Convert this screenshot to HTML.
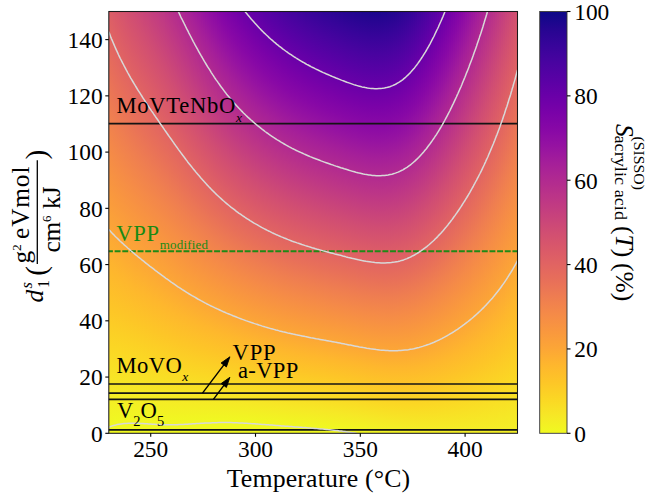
<!DOCTYPE html>
<html><head><meta charset="utf-8">
<style>
html,body{margin:0;padding:0;background:#fff;}
body{width:648px;height:493px;position:relative;overflow:hidden;font-family:"Liberation Serif",serif;}
#heat{position:absolute;left:108.8px;top:11.5px;width:408.7px;height:421.8px;overflow:hidden;}
#heat i{position:absolute;top:0;width:2.6px;height:100%;display:block;}
#cb{position:absolute;left:539.7px;top:11.5px;width:27.3px;height:421.8px;background:linear-gradient(#0d0887 0.0%,#260591 4.0%,#38049a 8.0%,#4903a0 12.0%,#5901a5 16.0%,#6a00a8 20.0%,#7a02a8 24.0%,#8808a6 28.0%,#9613a1 32.0%,#a51f99 36.0%,#b12a90 40.0%,#bc3587 44.0%,#c6417d 48.0%,#d04d73 52.0%,#d9586a 56.0%,#e16462 60.0%,#e87059 64.0%,#ef7e50 68.0%,#f58b47 72.0%,#f9983e 76.0%,#fca636 80.0%,#feb72d 84.0%,#fdc627 88.0%,#fbd724 92.0%,#f6e826 96.0%,#f0f921 100.0%);}
svg{position:absolute;left:0;top:0;}
text{font-family:"Liberation Serif",serif;fill:#000;}
</style></head><body>
<div id="heat">
<i style="left:0px;background:linear-gradient(#dc5d67 0.0%,#e16462 5.4%,#e87059 14.7%,#ef7e50 24.0%,#f58b47 33.3%,#f9983e 42.6%,#fca636 52.0%,#feb72d 61.3%,#fdc627 70.6%,#fbd724 79.9%,#f6e826 89.2%,#f0f921 98.5%,#f0f921 100.0%)"></i>
<i style="left:2px;background:linear-gradient(#db5c68 0.0%,#e16462 6.6%,#e87059 15.8%,#ef7e50 25.0%,#f58b47 34.1%,#f9983e 43.3%,#fca636 52.5%,#feb72d 61.6%,#fdc627 70.8%,#fbd724 80.0%,#f6e826 89.1%,#f0f921 98.3%,#f0f921 100.0%)"></i>
<i style="left:4px;background:linear-gradient(#da5a6a 0.0%,#e16462 7.8%,#e87059 16.8%,#ef7e50 25.8%,#f58b47 34.9%,#f9983e 43.9%,#fca636 52.9%,#feb72d 62.0%,#fdc627 71.0%,#fbd724 80.1%,#f6e826 89.1%,#f0f921 98.1%,#f0f921 100.0%)"></i>
<i style="left:6px;background:linear-gradient(#d9586a 0.0%,#e16462 8.8%,#e87059 17.8%,#ef7e50 26.7%,#f58b47 35.6%,#f9983e 44.5%,#fca636 53.4%,#feb72d 62.3%,#fdc627 71.3%,#fbd724 80.2%,#f6e826 89.1%,#f0f921 98.0%,#f0f921 100.0%)"></i>
<i style="left:8px;background:linear-gradient(#d8576b 0.0%,#d9586a 1.1%,#e16462 9.9%,#e87059 18.7%,#ef7e50 27.5%,#f58b47 36.3%,#f9983e 45.1%,#fca636 53.9%,#feb72d 62.7%,#fdc627 71.5%,#fbd724 80.3%,#f6e826 89.1%,#f0f921 97.9%,#f0f921 100.0%)"></i>
<i style="left:10px;background:linear-gradient(#d6556d 0.0%,#d9586a 2.2%,#e16462 10.9%,#e87059 19.6%,#ef7e50 28.3%,#f58b47 37.0%,#f9983e 45.7%,#fca636 54.3%,#feb72d 63.0%,#fdc627 71.7%,#fbd724 80.4%,#f6e826 89.1%,#f0f921 97.8%,#f0f921 100.0%)"></i>
<i style="left:12px;background:linear-gradient(#d5546e 0.0%,#d9586a 3.2%,#e16462 11.8%,#e87059 20.4%,#ef7e50 29.0%,#f58b47 37.6%,#f9983e 46.2%,#fca636 54.8%,#feb72d 63.4%,#fdc627 72.0%,#fbd724 80.6%,#f6e826 89.2%,#f0f921 97.8%,#f0f921 100.0%)"></i>
<i style="left:14px;background:linear-gradient(#d5536f 0.0%,#d9586a 4.3%,#e16462 12.8%,#e87059 21.3%,#ef7e50 29.7%,#f58b47 38.2%,#f9983e 46.7%,#fca636 55.2%,#feb72d 63.7%,#fdc627 72.2%,#fbd724 80.7%,#f6e826 89.2%,#f0f921 97.7%,#f0f921 100.0%)"></i>
<i style="left:16px;background:linear-gradient(#d35171 0.0%,#d9586a 5.3%,#e16462 13.7%,#e87059 22.1%,#ef7e50 30.5%,#f58b47 38.9%,#f9983e 47.3%,#fca636 55.7%,#feb72d 64.1%,#fdc627 72.5%,#fbd724 80.9%,#f6e826 89.3%,#f0f921 97.7%,#f0f921 100.0%)"></i>
<i style="left:18px;background:linear-gradient(#d24f71 0.0%,#d9586a 6.2%,#e16462 14.5%,#e87059 22.8%,#ef7e50 31.1%,#f58b47 39.5%,#f9983e 47.8%,#fca636 56.1%,#feb72d 64.4%,#fdc627 72.7%,#fbd724 81.0%,#f6e826 89.3%,#f0f921 97.6%,#f0f921 100.0%)"></i>
<i style="left:20px;background:linear-gradient(#d14e72 0.0%,#d9586a 7.1%,#e16462 15.4%,#e87059 23.6%,#ef7e50 31.8%,#f58b47 40.0%,#f9983e 48.3%,#fca636 56.5%,#feb72d 64.7%,#fdc627 72.9%,#fbd724 81.2%,#f6e826 89.4%,#f0f921 97.6%,#f0f921 100.0%)"></i>
<i style="left:22px;background:linear-gradient(#d04d73 0.0%,#d9586a 8.1%,#e16462 16.2%,#e87059 24.3%,#ef7e50 32.5%,#f58b47 40.6%,#f9983e 48.8%,#fca636 56.9%,#feb72d 65.0%,#fdc627 73.2%,#fbd724 81.3%,#f6e826 89.5%,#f0f921 97.6%,#f0f921 100.0%)"></i>
<i style="left:24px;background:linear-gradient(#cf4c74 0.0%,#d04d73 0.9%,#d9586a 8.9%,#e16462 17.0%,#e87059 25.1%,#ef7e50 33.1%,#f58b47 41.2%,#f9983e 49.2%,#fca636 57.3%,#feb72d 65.4%,#fdc627 73.4%,#fbd724 81.5%,#f6e826 89.5%,#f0f921 97.6%,#f0f921 100.0%)"></i>
<i style="left:26px;background:linear-gradient(#cd4a76 0.0%,#d04d73 1.8%,#d9586a 9.8%,#e16462 17.8%,#e87059 25.8%,#ef7e50 33.8%,#f58b47 41.7%,#f9983e 49.7%,#fca636 57.7%,#feb72d 65.7%,#fdc627 73.7%,#fbd724 81.6%,#f6e826 89.6%,#f0f921 97.6%,#f0f921 100.0%)"></i>
<i style="left:28px;background:linear-gradient(#cc4977 0.0%,#d04d73 2.7%,#d9586a 10.6%,#e16462 18.6%,#e87059 26.5%,#ef7e50 34.4%,#f58b47 42.3%,#f9983e 50.2%,#fca636 58.1%,#feb72d 66.0%,#fdc627 73.9%,#fbd724 81.8%,#f6e826 89.7%,#f0f921 97.6%,#f0f921 100.0%)"></i>
<i style="left:30px;background:linear-gradient(#cc4778 0.0%,#d04d73 3.6%,#d9586a 11.5%,#e16462 19.3%,#e87059 27.1%,#ef7e50 35.0%,#f58b47 42.8%,#f9983e 50.6%,#fca636 58.5%,#feb72d 66.3%,#fdc627 74.1%,#fbd724 82.0%,#f6e826 89.8%,#f0f921 97.6%,#f0f921 100.0%)"></i>
<i style="left:32px;background:linear-gradient(#cb4679 0.0%,#d04d73 4.5%,#d9586a 12.3%,#e16462 20.1%,#e87059 27.8%,#ef7e50 35.6%,#f58b47 43.3%,#f9983e 51.1%,#fca636 58.9%,#feb72d 66.6%,#fdc627 74.4%,#fbd724 82.1%,#f6e826 89.9%,#f0f921 97.7%,#f0f921 100.0%)"></i>
<i style="left:34px;background:linear-gradient(#c9447a 0.0%,#d04d73 5.4%,#d9586a 13.1%,#e16462 20.8%,#e87059 28.5%,#ef7e50 36.2%,#f58b47 43.9%,#f9983e 51.6%,#fca636 59.2%,#feb72d 66.9%,#fdc627 74.6%,#fbd724 82.3%,#f6e826 90.0%,#f0f921 97.7%,#f0f921 100.0%)"></i>
<i style="left:36px;background:linear-gradient(#c8437b 0.0%,#d04d73 6.3%,#d9586a 13.9%,#e16462 21.5%,#e87059 29.1%,#ef7e50 36.8%,#f58b47 44.4%,#f9983e 52.0%,#fca636 59.6%,#feb72d 67.2%,#fdc627 74.9%,#fbd724 82.5%,#f6e826 90.1%,#f0f921 97.7%,#f0f921 100.0%)"></i>
<i style="left:38px;background:linear-gradient(#c7427c 0.0%,#d04d73 7.1%,#d9586a 14.7%,#e16462 22.2%,#e87059 29.8%,#ef7e50 37.3%,#f58b47 44.9%,#f9983e 52.4%,#fca636 60.0%,#feb72d 67.5%,#fdc627 75.1%,#fbd724 82.7%,#f6e826 90.2%,#f0f921 97.8%,#f0f921 100.0%)"></i>
<i style="left:40px;background:linear-gradient(#c6417d 0.0%,#c6417d 0.5%,#d04d73 8.0%,#d9586a 15.5%,#e16462 22.9%,#e87059 30.4%,#ef7e50 37.9%,#f58b47 45.4%,#f9983e 52.9%,#fca636 60.4%,#feb72d 67.9%,#fdc627 75.3%,#fbd724 82.8%,#f6e826 90.3%,#f0f921 97.8%,#f0f921 100.0%)"></i>
<i style="left:42px;background:linear-gradient(#c43e7f 0.0%,#c6417d 1.4%,#d04d73 8.8%,#d9586a 16.2%,#e16462 23.6%,#e87059 31.1%,#ef7e50 38.5%,#f58b47 45.9%,#f9983e 53.3%,#fca636 60.7%,#feb72d 68.2%,#fdc627 75.6%,#fbd724 83.0%,#f6e826 90.4%,#f0f921 97.8%,#f0f921 100.0%)"></i>
<i style="left:44px;background:linear-gradient(#c33d80 0.0%,#c6417d 2.3%,#d04d73 9.6%,#d9586a 17.0%,#e16462 24.3%,#e87059 31.7%,#ef7e50 39.0%,#f58b47 46.4%,#f9983e 53.7%,#fca636 61.1%,#feb72d 68.5%,#fdc627 75.8%,#fbd724 83.2%,#f6e826 90.5%,#f0f921 97.9%,#f0f921 100.0%)"></i>
<i style="left:46px;background:linear-gradient(#c23c81 0.0%,#c6417d 3.2%,#d04d73 10.5%,#d9586a 17.8%,#e16462 25.0%,#e87059 32.3%,#ef7e50 39.6%,#f58b47 46.9%,#f9983e 54.2%,#fca636 61.5%,#feb72d 68.7%,#fdc627 76.0%,#fbd724 83.3%,#f6e826 90.6%,#f0f921 97.9%,#f0f921 100.0%)"></i>
<i style="left:48px;background:linear-gradient(#c13b82 0.0%,#c6417d 4.1%,#d04d73 11.3%,#d9586a 18.5%,#e16462 25.7%,#e87059 32.9%,#ef7e50 40.2%,#f58b47 47.4%,#f9983e 54.6%,#fca636 61.8%,#feb72d 69.0%,#fdc627 76.3%,#fbd724 83.5%,#f6e826 90.7%,#f0f921 97.9%,#f0f921 100.0%)"></i>
<i style="left:50px;background:linear-gradient(#bf3984 0.0%,#c6417d 5.0%,#d04d73 12.1%,#d9586a 19.3%,#e16462 26.4%,#e87059 33.6%,#ef7e50 40.7%,#f58b47 47.9%,#f9983e 55.0%,#fca636 62.2%,#feb72d 69.3%,#fdc627 76.5%,#fbd724 83.6%,#f6e826 90.8%,#f0f921 97.9%,#f0f921 100.0%)"></i>
<i style="left:52px;background:linear-gradient(#be3885 0.0%,#c6417d 5.8%,#d04d73 12.9%,#d9586a 20.0%,#e16462 27.1%,#e87059 34.2%,#ef7e50 41.3%,#f58b47 48.4%,#f9983e 55.4%,#fca636 62.5%,#feb72d 69.6%,#fdc627 76.7%,#fbd724 83.8%,#f6e826 90.9%,#f0f921 98.0%,#f0f921 100.0%)"></i>
<i style="left:54px;background:linear-gradient(#bd3786 0.0%,#c6417d 6.7%,#d04d73 13.7%,#d9586a 20.8%,#e16462 27.8%,#e87059 34.8%,#ef7e50 41.8%,#f58b47 48.8%,#f9983e 55.9%,#fca636 62.9%,#feb72d 69.9%,#fdc627 76.9%,#fbd724 83.9%,#f6e826 91.0%,#f0f921 98.0%,#f0f921 100.0%)"></i>
<i style="left:56px;background:linear-gradient(#bb3488 0.0%,#bc3587 0.7%,#c6417d 7.6%,#d04d73 14.6%,#d9586a 21.5%,#e16462 28.5%,#e87059 35.4%,#ef7e50 42.4%,#f58b47 49.3%,#f9983e 56.3%,#fca636 63.2%,#feb72d 70.2%,#fdc627 77.1%,#fbd724 84.1%,#f6e826 91.0%,#f0f921 98.0%,#f0f921 100.0%)"></i>
<i style="left:58px;background:linear-gradient(#ba3388 0.0%,#bc3587 1.6%,#c6417d 8.5%,#d04d73 15.4%,#d9586a 22.3%,#e16462 29.1%,#e87059 36.0%,#ef7e50 42.9%,#f58b47 49.8%,#f9983e 56.7%,#fca636 63.6%,#feb72d 70.5%,#fdc627 77.3%,#fbd724 84.2%,#f6e826 91.1%,#f0f921 98.0%,#f0f921 100.0%)"></i>
<i style="left:60px;background:linear-gradient(#b7318a 0.0%,#bc3587 2.6%,#c6417d 9.4%,#d04d73 16.2%,#d9586a 23.0%,#e16462 29.8%,#e87059 36.6%,#ef7e50 43.5%,#f58b47 50.3%,#f9983e 57.1%,#fca636 63.9%,#feb72d 70.7%,#fdc627 77.5%,#fbd724 84.4%,#f6e826 91.2%,#f0f921 98.0%,#f0f921 100.0%)"></i>
<i style="left:62px;background:linear-gradient(#b6308b 0.0%,#bc3587 3.5%,#c6417d 10.3%,#d04d73 17.0%,#d9586a 23.8%,#e16462 30.5%,#e87059 37.2%,#ef7e50 44.0%,#f58b47 50.7%,#f9983e 57.5%,#fca636 64.2%,#feb72d 71.0%,#fdc627 77.7%,#fbd724 84.5%,#f6e826 91.2%,#f0f921 98.0%,#f0f921 100.0%)"></i>
<i style="left:64px;background:linear-gradient(#b42e8d 0.0%,#bc3587 4.5%,#c6417d 11.1%,#d04d73 17.8%,#d9586a 24.5%,#e16462 31.2%,#e87059 37.9%,#ef7e50 44.5%,#f58b47 51.2%,#f9983e 57.9%,#fca636 64.6%,#feb72d 71.3%,#fdc627 77.9%,#fbd724 84.6%,#f6e826 91.3%,#f0f921 98.0%,#f0f921 100.0%)"></i>
<i style="left:66px;background:linear-gradient(#b32c8e 0.0%,#bc3587 5.4%,#c6417d 12.0%,#d04d73 18.6%,#d9586a 25.2%,#e16462 31.8%,#e87059 38.4%,#ef7e50 45.1%,#f58b47 51.7%,#f9983e 58.3%,#fca636 64.9%,#feb72d 71.5%,#fdc627 78.1%,#fbd724 84.7%,#f6e826 91.3%,#f0f921 98.0%,#f0f921 100.0%)"></i>
<i style="left:68px;background:linear-gradient(#b12a90 0.0%,#bc3587 6.3%,#c6417d 12.9%,#d04d73 19.4%,#d9586a 26.0%,#e16462 32.5%,#e87059 39.0%,#ef7e50 45.6%,#f58b47 52.1%,#f9983e 58.7%,#fca636 65.2%,#feb72d 71.8%,#fdc627 78.3%,#fbd724 84.9%,#f6e826 91.4%,#f0f921 97.9%,#f0f921 100.0%)"></i>
<i style="left:70px;background:linear-gradient(#b02991 0.0%,#b12a90 0.8%,#bc3587 7.2%,#c6417d 13.7%,#d04d73 20.2%,#d9586a 26.7%,#e16462 33.1%,#e87059 39.6%,#ef7e50 46.1%,#f58b47 52.6%,#f9983e 59.1%,#fca636 65.5%,#feb72d 72.0%,#fdc627 78.5%,#fbd724 85.0%,#f6e826 91.4%,#f0f921 97.9%,#f0f921 100.0%)"></i>
<i style="left:72px;background:linear-gradient(#ad2793 0.0%,#b12a90 1.7%,#bc3587 8.1%,#c6417d 14.6%,#d04d73 21.0%,#d9586a 27.4%,#e16462 33.8%,#e87059 40.2%,#ef7e50 46.6%,#f58b47 53.0%,#f9983e 59.4%,#fca636 65.8%,#feb72d 72.3%,#fdc627 78.7%,#fbd724 85.1%,#f6e826 91.5%,#f0f921 97.9%,#f0f921 100.0%)"></i>
<i style="left:74px;background:linear-gradient(#ac2694 0.0%,#b12a90 2.7%,#bc3587 9.0%,#c6417d 15.4%,#d04d73 21.7%,#d9586a 28.1%,#e16462 34.4%,#e87059 40.8%,#ef7e50 47.1%,#f58b47 53.5%,#f9983e 59.8%,#fca636 66.2%,#feb72d 72.5%,#fdc627 78.8%,#fbd724 85.2%,#f6e826 91.5%,#f0f921 97.9%,#f0f921 100.0%)"></i>
<i style="left:76px;background:linear-gradient(#aa2395 0.0%,#b12a90 3.7%,#bc3587 9.9%,#c6417d 16.2%,#d04d73 22.5%,#d9586a 28.8%,#e16462 35.1%,#e87059 41.3%,#ef7e50 47.6%,#f58b47 53.9%,#f9983e 60.2%,#fca636 66.5%,#feb72d 72.7%,#fdc627 79.0%,#fbd724 85.3%,#f6e826 91.6%,#f0f921 97.9%,#f0f921 100.0%)"></i>
<i style="left:78px;background:linear-gradient(#a72197 0.0%,#b12a90 4.6%,#bc3587 10.8%,#c6417d 17.0%,#d04d73 23.2%,#d9586a 29.5%,#e16462 35.7%,#e87059 41.9%,#ef7e50 48.1%,#f58b47 54.3%,#f9983e 60.5%,#fca636 66.8%,#feb72d 73.0%,#fdc627 79.2%,#fbd724 85.4%,#f6e826 91.6%,#f0f921 97.8%,#f0f921 100.0%)"></i>
<i style="left:80px;background:linear-gradient(#a62098 0.0%,#b12a90 5.5%,#bc3587 11.7%,#c6417d 17.8%,#d04d73 24.0%,#d9586a 30.1%,#e16462 36.3%,#e87059 42.4%,#ef7e50 48.6%,#f58b47 54.7%,#f9983e 60.9%,#fca636 67.0%,#feb72d 73.2%,#fdc627 79.3%,#fbd724 85.5%,#f6e826 91.6%,#f0f921 97.8%,#f0f921 100.0%)"></i>
<i style="left:82px;background:linear-gradient(#a31e9a 0.0%,#a51f99 0.3%,#b12a90 6.4%,#bc3587 12.5%,#c6417d 18.6%,#d04d73 24.7%,#d9586a 30.8%,#e16462 36.9%,#e87059 43.0%,#ef7e50 49.1%,#f58b47 55.1%,#f9983e 61.2%,#fca636 67.3%,#feb72d 73.4%,#fdc627 79.5%,#fbd724 85.6%,#f6e826 91.7%,#f0f921 97.8%,#f0f921 100.0%)"></i>
<i style="left:84px;background:linear-gradient(#a11b9b 0.0%,#a51f99 1.3%,#b12a90 7.3%,#bc3587 13.4%,#c6417d 19.4%,#d04d73 25.4%,#d9586a 31.4%,#e16462 37.5%,#e87059 43.5%,#ef7e50 49.5%,#f58b47 55.6%,#f9983e 61.6%,#fca636 67.6%,#feb72d 73.6%,#fdc627 79.7%,#fbd724 85.7%,#f6e826 91.7%,#f0f921 97.7%,#f0f921 100.0%)"></i>
<i style="left:86px;background:linear-gradient(#a01a9c 0.0%,#a51f99 2.2%,#b12a90 8.2%,#bc3587 14.2%,#c6417d 20.1%,#d04d73 26.1%,#d9586a 32.1%,#e16462 38.0%,#e87059 44.0%,#ef7e50 50.0%,#f58b47 55.9%,#f9983e 61.9%,#fca636 67.9%,#feb72d 73.8%,#fdc627 79.8%,#fbd724 85.8%,#f6e826 91.7%,#f0f921 97.7%,#f0f921 100.0%)"></i>
<i style="left:88px;background:linear-gradient(#9d189d 0.0%,#a51f99 3.2%,#b12a90 9.1%,#bc3587 15.0%,#c6417d 20.9%,#d04d73 26.8%,#d9586a 32.7%,#e16462 38.6%,#e87059 44.5%,#ef7e50 50.4%,#f58b47 56.3%,#f9983e 62.2%,#fca636 68.1%,#feb72d 74.1%,#fdc627 80.0%,#fbd724 85.9%,#f6e826 91.8%,#f0f921 97.7%,#f0f921 100.0%)"></i>
<i style="left:90px;background:linear-gradient(#9c179e 0.0%,#a51f99 4.1%,#b12a90 9.9%,#bc3587 15.8%,#c6417d 21.6%,#d04d73 27.5%,#d9586a 33.3%,#e16462 39.2%,#e87059 45.0%,#ef7e50 50.9%,#f58b47 56.7%,#f9983e 62.6%,#fca636 68.4%,#feb72d 74.3%,#fdc627 80.1%,#fbd724 86.0%,#f6e826 91.8%,#f0f921 97.7%,#f0f921 100.0%)"></i>
<i style="left:92px;background:linear-gradient(#99159f 0.0%,#a51f99 5.0%,#b12a90 10.8%,#bc3587 16.5%,#c6417d 22.3%,#d04d73 28.1%,#d9586a 33.9%,#e16462 39.7%,#e87059 45.5%,#ef7e50 51.3%,#f58b47 57.1%,#f9983e 62.9%,#fca636 68.7%,#feb72d 74.5%,#fdc627 80.3%,#fbd724 86.0%,#f6e826 91.8%,#f0f921 97.6%,#f0f921 100.0%)"></i>
<i style="left:94px;background:linear-gradient(#9613a1 0.0%,#9613a1 0.1%,#a51f99 5.8%,#b12a90 11.6%,#bc3587 17.3%,#c6417d 23.0%,#d04d73 28.8%,#d9586a 34.5%,#e16462 40.2%,#e87059 46.0%,#ef7e50 51.7%,#f58b47 57.5%,#f9983e 63.2%,#fca636 68.9%,#feb72d 74.7%,#fdc627 80.4%,#fbd724 86.1%,#f6e826 91.9%,#f0f921 97.6%,#f0f921 100.0%)"></i>
<i style="left:96px;background:linear-gradient(#9511a1 0.0%,#9613a1 1.0%,#a51f99 6.7%,#b12a90 12.4%,#bc3587 18.0%,#c6417d 23.7%,#d04d73 29.4%,#d9586a 35.1%,#e16462 40.8%,#e87059 46.4%,#ef7e50 52.1%,#f58b47 57.8%,#f9983e 63.5%,#fca636 69.2%,#feb72d 74.9%,#fdc627 80.5%,#fbd724 86.2%,#f6e826 91.9%,#f0f921 97.6%,#f0f921 100.0%)"></i>
<i style="left:98px;background:linear-gradient(#920fa3 0.0%,#9613a1 1.9%,#a51f99 7.5%,#b12a90 13.1%,#bc3587 18.8%,#c6417d 24.4%,#d04d73 30.0%,#d9586a 35.7%,#e16462 41.3%,#e87059 46.9%,#ef7e50 52.5%,#f58b47 58.2%,#f9983e 63.8%,#fca636 69.4%,#feb72d 75.0%,#fdc627 80.7%,#fbd724 86.3%,#f6e826 91.9%,#f0f921 97.6%,#f0f921 100.0%)"></i>
<i style="left:100px;background:linear-gradient(#8f0da4 0.0%,#9613a1 2.7%,#a51f99 8.3%,#b12a90 13.9%,#bc3587 19.5%,#c6417d 25.1%,#d04d73 30.6%,#d9586a 36.2%,#e16462 41.8%,#e87059 47.4%,#ef7e50 52.9%,#f58b47 58.5%,#f9983e 64.1%,#fca636 69.7%,#feb72d 75.2%,#fdc627 80.8%,#fbd724 86.4%,#f6e826 92.0%,#f0f921 97.5%,#f0f921 100.0%)"></i>
<i style="left:102px;background:linear-gradient(#8e0ca4 0.0%,#9613a1 3.6%,#a51f99 9.1%,#b12a90 14.6%,#bc3587 20.2%,#c6417d 25.7%,#d04d73 31.2%,#d9586a 36.7%,#e16462 42.3%,#e87059 47.8%,#ef7e50 53.3%,#f58b47 58.8%,#f9983e 64.4%,#fca636 69.9%,#feb72d 75.4%,#fdc627 80.9%,#fbd724 86.5%,#f6e826 92.0%,#f0f921 97.5%,#f0f921 100.0%)"></i>
<i style="left:104px;background:linear-gradient(#8b0aa5 0.0%,#9613a1 4.4%,#a51f99 9.9%,#b12a90 15.4%,#bc3587 20.8%,#c6417d 26.3%,#d04d73 31.8%,#d9586a 37.3%,#e16462 42.7%,#e87059 48.2%,#ef7e50 53.7%,#f58b47 59.2%,#f9983e 64.6%,#fca636 70.1%,#feb72d 75.6%,#fdc627 81.1%,#fbd724 86.5%,#f6e826 92.0%,#f0f921 97.5%,#f0f921 100.0%)"></i>
<i style="left:106px;background:linear-gradient(#8a09a5 0.0%,#9613a1 5.2%,#a51f99 10.6%,#b12a90 16.1%,#bc3587 21.5%,#c6417d 26.9%,#d04d73 32.4%,#d9586a 37.8%,#e16462 43.2%,#e87059 48.6%,#ef7e50 54.1%,#f58b47 59.5%,#f9983e 64.9%,#fca636 70.3%,#feb72d 75.8%,#fdc627 81.2%,#fbd724 86.6%,#f6e826 92.1%,#f0f921 97.5%,#f0f921 100.0%)"></i>
<i style="left:108px;background:linear-gradient(#8707a6 0.0%,#8808a6 0.6%,#9613a1 6.0%,#a51f99 11.4%,#b12a90 16.8%,#bc3587 22.1%,#c6417d 27.5%,#d04d73 32.9%,#d9586a 38.3%,#e16462 43.7%,#e87059 49.0%,#ef7e50 54.4%,#f58b47 59.8%,#f9983e 65.2%,#fca636 70.6%,#feb72d 75.9%,#fdc627 81.3%,#fbd724 86.7%,#f6e826 92.1%,#f0f921 97.5%,#f0f921 100.0%)"></i>
<i style="left:110px;background:linear-gradient(#8405a7 0.0%,#8808a6 1.4%,#9613a1 6.8%,#a51f99 12.1%,#b12a90 17.4%,#bc3587 22.8%,#c6417d 28.1%,#d04d73 33.4%,#d9586a 38.8%,#e16462 44.1%,#e87059 49.4%,#ef7e50 54.8%,#f58b47 60.1%,#f9983e 65.4%,#fca636 70.8%,#feb72d 76.1%,#fdc627 81.5%,#fbd724 86.8%,#f6e826 92.1%,#f0f921 97.5%,#f0f921 100.0%)"></i>
<i style="left:112px;background:linear-gradient(#8305a7 0.0%,#8808a6 2.2%,#9613a1 7.5%,#a51f99 12.8%,#b12a90 18.1%,#bc3587 23.4%,#c6417d 28.7%,#d04d73 34.0%,#d9586a 39.2%,#e16462 44.5%,#e87059 49.8%,#ef7e50 55.1%,#f58b47 60.4%,#f9983e 65.7%,#fca636 71.0%,#feb72d 76.3%,#fdc627 81.6%,#fbd724 86.9%,#f6e826 92.2%,#f0f921 97.5%,#f0f921 100.0%)"></i>
<i style="left:114px;background:linear-gradient(#8004a8 0.0%,#8808a6 3.0%,#9613a1 8.2%,#a51f99 13.5%,#b12a90 18.7%,#bc3587 24.0%,#c6417d 29.2%,#d04d73 34.5%,#d9586a 39.7%,#e16462 45.0%,#e87059 50.2%,#ef7e50 55.5%,#f58b47 60.7%,#f9983e 66.0%,#fca636 71.2%,#feb72d 76.5%,#fdc627 81.7%,#fbd724 87.0%,#f6e826 92.2%,#f0f921 97.5%,#f0f921 100.0%)"></i>
<i style="left:116px;background:linear-gradient(#7e03a8 0.0%,#8808a6 3.7%,#9613a1 8.9%,#a51f99 14.1%,#b12a90 19.3%,#bc3587 24.5%,#c6417d 29.7%,#d04d73 34.9%,#d9586a 40.2%,#e16462 45.4%,#e87059 50.6%,#ef7e50 55.8%,#f58b47 61.0%,#f9983e 66.2%,#fca636 71.4%,#feb72d 76.6%,#fdc627 81.8%,#fbd724 87.0%,#f6e826 92.2%,#f0f921 97.5%,#f0f921 100.0%)"></i>
<i style="left:118px;background:linear-gradient(#7b02a8 0.0%,#8808a6 4.4%,#9613a1 9.6%,#a51f99 14.7%,#b12a90 19.9%,#bc3587 25.1%,#c6417d 30.3%,#d04d73 35.4%,#d9586a 40.6%,#e16462 45.8%,#e87059 50.9%,#ef7e50 56.1%,#f58b47 61.3%,#f9983e 66.4%,#fca636 71.6%,#feb72d 76.8%,#fdc627 82.0%,#fbd724 87.1%,#f6e826 92.3%,#f0f921 97.5%,#f0f921 100.0%)"></i>
<i style="left:120px;background:linear-gradient(#7a02a8 0.0%,#8808a6 5.1%,#9613a1 10.2%,#a51f99 15.4%,#b12a90 20.5%,#bc3587 25.6%,#c6417d 30.8%,#d04d73 35.9%,#d9586a 41.0%,#e16462 46.2%,#e87059 51.3%,#ef7e50 56.4%,#f58b47 61.5%,#f9983e 66.7%,#fca636 71.8%,#feb72d 76.9%,#fdc627 82.1%,#fbd724 87.2%,#f6e826 92.3%,#f0f921 97.5%,#f0f921 100.0%)"></i>
<i style="left:122px;background:linear-gradient(#7801a8 0.0%,#7a02a8 0.7%,#8808a6 5.8%,#9613a1 10.9%,#a51f99 16.0%,#b12a90 21.1%,#bc3587 26.2%,#c6417d 31.2%,#d04d73 36.3%,#d9586a 41.4%,#e16462 46.5%,#e87059 51.6%,#ef7e50 56.7%,#f58b47 61.8%,#f9983e 66.9%,#fca636 72.0%,#feb72d 77.1%,#fdc627 82.2%,#fbd724 87.3%,#f6e826 92.4%,#f0f921 97.5%,#f0f921 100.0%)"></i>
<i style="left:124px;background:linear-gradient(#7501a8 0.0%,#7a02a8 1.4%,#8808a6 6.4%,#9613a1 11.5%,#a51f99 16.5%,#b12a90 21.6%,#bc3587 26.7%,#c6417d 31.7%,#d04d73 36.8%,#d9586a 41.8%,#e16462 46.9%,#e87059 52.0%,#ef7e50 57.0%,#f58b47 62.1%,#f9983e 67.1%,#fca636 72.2%,#feb72d 77.3%,#fdc627 82.3%,#fbd724 87.4%,#f6e826 92.4%,#f0f921 97.5%,#f0f921 100.0%)"></i>
<i style="left:126px;background:linear-gradient(#7401a8 0.0%,#7a02a8 2.0%,#8808a6 7.1%,#9613a1 12.1%,#a51f99 17.1%,#b12a90 22.1%,#bc3587 27.2%,#c6417d 32.2%,#d04d73 37.2%,#d9586a 42.2%,#e16462 47.3%,#e87059 52.3%,#ef7e50 57.3%,#f58b47 62.3%,#f9983e 67.4%,#fca636 72.4%,#feb72d 77.4%,#fdc627 82.4%,#fbd724 87.5%,#f6e826 92.5%,#f0f921 97.5%,#f0f921 100.0%)"></i>
<i style="left:128px;background:linear-gradient(#7100a8 0.0%,#7a02a8 2.7%,#8808a6 7.7%,#9613a1 12.7%,#a51f99 17.7%,#b12a90 22.6%,#bc3587 27.6%,#c6417d 32.6%,#d04d73 37.6%,#d9586a 42.6%,#e16462 47.6%,#e87059 52.6%,#ef7e50 57.6%,#f58b47 62.6%,#f9983e 67.6%,#fca636 72.6%,#feb72d 77.6%,#fdc627 82.5%,#fbd724 87.5%,#f6e826 92.5%,#f0f921 97.5%,#f0f921 100.0%)"></i>
<i style="left:130px;background:linear-gradient(#6f00a8 0.0%,#7a02a8 3.3%,#8808a6 8.3%,#9613a1 13.2%,#a51f99 18.2%,#b12a90 23.1%,#bc3587 28.1%,#c6417d 33.1%,#d04d73 38.0%,#d9586a 43.0%,#e16462 47.9%,#e87059 52.9%,#ef7e50 57.9%,#f58b47 62.8%,#f9983e 67.8%,#fca636 72.7%,#feb72d 77.7%,#fdc627 82.7%,#fbd724 87.6%,#f6e826 92.6%,#f0f921 97.5%,#f0f921 100.0%)"></i>
<i style="left:132px;background:linear-gradient(#6e00a8 0.0%,#7a02a8 3.9%,#8808a6 8.9%,#9613a1 13.8%,#a51f99 18.7%,#b12a90 23.6%,#bc3587 28.6%,#c6417d 33.5%,#d04d73 38.4%,#d9586a 43.4%,#e16462 48.3%,#e87059 53.2%,#ef7e50 58.1%,#f58b47 63.1%,#f9983e 68.0%,#fca636 72.9%,#feb72d 77.9%,#fdc627 82.8%,#fbd724 87.7%,#f6e826 92.6%,#f0f921 97.6%,#f0f921 100.0%)"></i>
<i style="left:134px;background:linear-gradient(#6a00a8 0.0%,#7a02a8 4.5%,#8808a6 9.4%,#9613a1 14.3%,#a51f99 19.2%,#b12a90 24.1%,#bc3587 29.0%,#c6417d 33.9%,#d04d73 38.8%,#d9586a 43.7%,#e16462 48.6%,#e87059 53.5%,#ef7e50 58.4%,#f58b47 63.3%,#f9983e 68.2%,#fca636 73.1%,#feb72d 78.0%,#fdc627 82.9%,#fbd724 87.8%,#f6e826 92.7%,#f0f921 97.6%,#f0f921 100.0%)"></i>
<i style="left:136px;background:linear-gradient(#6900a8 0.0%,#6a00a8 0.2%,#7a02a8 5.1%,#8808a6 10.0%,#9613a1 14.8%,#a51f99 19.7%,#b12a90 24.6%,#bc3587 29.4%,#c6417d 34.3%,#d04d73 39.2%,#d9586a 44.1%,#e16462 48.9%,#e87059 53.8%,#ef7e50 58.7%,#f58b47 63.5%,#f9983e 68.4%,#fca636 73.3%,#feb72d 78.1%,#fdc627 83.0%,#fbd724 87.9%,#f6e826 92.7%,#f0f921 97.6%,#f0f921 100.0%)"></i>
<i style="left:138px;background:linear-gradient(#6700a8 0.0%,#6a00a8 0.8%,#7a02a8 5.7%,#8808a6 10.5%,#9613a1 15.3%,#a51f99 20.2%,#b12a90 25.0%,#bc3587 29.9%,#c6417d 34.7%,#d04d73 39.5%,#d9586a 44.4%,#e16462 49.2%,#e87059 54.1%,#ef7e50 58.9%,#f58b47 63.8%,#f9983e 68.6%,#fca636 73.4%,#feb72d 78.3%,#fdc627 83.1%,#fbd724 88.0%,#f6e826 92.8%,#f0f921 97.6%,#f0f921 100.0%)"></i>
<i style="left:140px;background:linear-gradient(#6600a7 0.0%,#6a00a8 1.4%,#7a02a8 6.2%,#8808a6 11.0%,#9613a1 15.8%,#a51f99 20.6%,#b12a90 25.5%,#bc3587 30.3%,#c6417d 35.1%,#d04d73 39.9%,#d9586a 44.7%,#e16462 49.5%,#e87059 54.3%,#ef7e50 59.2%,#f58b47 64.0%,#f9983e 68.8%,#fca636 73.6%,#feb72d 78.4%,#fdc627 83.2%,#fbd724 88.0%,#f6e826 92.9%,#f0f921 97.7%,#f0f921 100.0%)"></i>
<i style="left:142px;background:linear-gradient(#6400a7 0.0%,#6a00a8 1.9%,#7a02a8 6.7%,#8808a6 11.5%,#9613a1 16.3%,#a51f99 21.1%,#b12a90 25.9%,#bc3587 30.7%,#c6417d 35.5%,#d04d73 40.3%,#d9586a 45.0%,#e16462 49.8%,#e87059 54.6%,#ef7e50 59.4%,#f58b47 64.2%,#f9983e 69.0%,#fca636 73.8%,#feb72d 78.6%,#fdc627 83.3%,#fbd724 88.1%,#f6e826 92.9%,#f0f921 97.7%,#f0f921 100.0%)"></i>
<i style="left:144px;background:linear-gradient(#6100a7 0.0%,#6a00a8 2.5%,#7a02a8 7.3%,#8808a6 12.0%,#9613a1 16.8%,#a51f99 21.5%,#b12a90 26.3%,#bc3587 31.1%,#c6417d 35.8%,#d04d73 40.6%,#d9586a 45.4%,#e16462 50.1%,#e87059 54.9%,#ef7e50 59.6%,#f58b47 64.4%,#f9983e 69.2%,#fca636 73.9%,#feb72d 78.7%,#fdc627 83.5%,#fbd724 88.2%,#f6e826 93.0%,#f0f921 97.7%,#f0f921 100.0%)"></i>
<i style="left:146px;background:linear-gradient(#6001a6 0.0%,#6a00a8 3.0%,#7a02a8 7.8%,#8808a6 12.5%,#9613a1 17.2%,#a51f99 22.0%,#b12a90 26.7%,#bc3587 31.4%,#c6417d 36.2%,#d04d73 40.9%,#d9586a 45.7%,#e16462 50.4%,#e87059 55.1%,#ef7e50 59.9%,#f58b47 64.6%,#f9983e 69.3%,#fca636 74.1%,#feb72d 78.8%,#fdc627 83.6%,#fbd724 88.3%,#f6e826 93.0%,#f0f921 97.8%,#f0f921 100.0%)"></i>
<i style="left:148px;background:linear-gradient(#5e01a6 0.0%,#6a00a8 3.5%,#7a02a8 8.2%,#8808a6 13.0%,#9613a1 17.7%,#a51f99 22.4%,#b12a90 27.1%,#bc3587 31.8%,#c6417d 36.5%,#d04d73 41.2%,#d9586a 46.0%,#e16462 50.7%,#e87059 55.4%,#ef7e50 60.1%,#f58b47 64.8%,#f9983e 69.5%,#fca636 74.2%,#feb72d 79.0%,#fdc627 83.7%,#fbd724 88.4%,#f6e826 93.1%,#f0f921 97.8%,#f0f921 100.0%)"></i>
<i style="left:150px;background:linear-gradient(#5c01a6 0.0%,#6a00a8 4.0%,#7a02a8 8.7%,#8808a6 13.4%,#9613a1 18.1%,#a51f99 22.8%,#b12a90 27.5%,#bc3587 32.2%,#c6417d 36.9%,#d04d73 41.6%,#d9586a 46.2%,#e16462 50.9%,#e87059 55.6%,#ef7e50 60.3%,#f58b47 65.0%,#f9983e 69.7%,#fca636 74.4%,#feb72d 79.1%,#fdc627 83.8%,#fbd724 88.5%,#f6e826 93.2%,#f0f921 97.8%,#f0f921 100.0%)"></i>
<i style="left:152px;background:linear-gradient(#5b01a5 0.0%,#6a00a8 4.5%,#7a02a8 9.2%,#8808a6 13.8%,#9613a1 18.5%,#a51f99 23.2%,#b12a90 27.9%,#bc3587 32.5%,#c6417d 37.2%,#d04d73 41.9%,#d9586a 46.5%,#e16462 51.2%,#e87059 55.9%,#ef7e50 60.5%,#f58b47 65.2%,#f9983e 69.9%,#fca636 74.5%,#feb72d 79.2%,#fdc627 83.9%,#fbd724 88.5%,#f6e826 93.2%,#f0f921 97.9%,#f0f921 100.0%)"></i>
<i style="left:154px;background:linear-gradient(#5901a5 0.0%,#5901a5 0.3%,#6a00a8 5.0%,#7a02a8 9.6%,#8808a6 14.3%,#9613a1 18.9%,#a51f99 23.6%,#b12a90 28.2%,#bc3587 32.9%,#c6417d 37.5%,#d04d73 42.2%,#d9586a 46.8%,#e16462 51.4%,#e87059 56.1%,#ef7e50 60.7%,#f58b47 65.4%,#f9983e 70.0%,#fca636 74.7%,#feb72d 79.3%,#fdc627 84.0%,#fbd724 88.6%,#f6e826 93.3%,#f0f921 97.9%,#f0f921 100.0%)"></i>
<i style="left:156px;background:linear-gradient(#5801a4 0.0%,#5901a5 0.8%,#6a00a8 5.4%,#7a02a8 10.1%,#8808a6 14.7%,#9613a1 19.3%,#a51f99 23.9%,#b12a90 28.6%,#bc3587 33.2%,#c6417d 37.8%,#d04d73 42.4%,#d9586a 47.1%,#e16462 51.7%,#e87059 56.3%,#ef7e50 60.9%,#f58b47 65.6%,#f9983e 70.2%,#fca636 74.8%,#feb72d 79.4%,#fdc627 84.1%,#fbd724 88.7%,#f6e826 93.3%,#f0f921 98.0%,#f0f921 100.0%)"></i>
<i style="left:158px;background:linear-gradient(#5601a4 0.0%,#5901a5 1.3%,#6a00a8 5.9%,#7a02a8 10.5%,#8808a6 15.1%,#9613a1 19.7%,#a51f99 24.3%,#b12a90 28.9%,#bc3587 33.5%,#c6417d 38.1%,#d04d73 42.7%,#d9586a 47.3%,#e16462 51.9%,#e87059 56.5%,#ef7e50 61.1%,#f58b47 65.8%,#f9983e 70.4%,#fca636 75.0%,#feb72d 79.6%,#fdc627 84.2%,#fbd724 88.8%,#f6e826 93.4%,#f0f921 98.0%,#f0f921 100.0%)"></i>
<i style="left:160px;background:linear-gradient(#5502a4 0.0%,#5901a5 1.7%,#6a00a8 6.3%,#7a02a8 10.9%,#8808a6 15.5%,#9613a1 20.1%,#a51f99 24.7%,#b12a90 29.2%,#bc3587 33.8%,#c6417d 38.4%,#d04d73 43.0%,#d9586a 47.6%,#e16462 52.2%,#e87059 56.8%,#ef7e50 61.3%,#f58b47 65.9%,#f9983e 70.5%,#fca636 75.1%,#feb72d 79.7%,#fdc627 84.3%,#fbd724 88.9%,#f6e826 93.4%,#f0f921 98.0%,#f0f921 100.0%)"></i>
<i style="left:162px;background:linear-gradient(#5302a3 0.0%,#5901a5 2.2%,#6a00a8 6.7%,#7a02a8 11.3%,#8808a6 15.9%,#9613a1 20.4%,#a51f99 25.0%,#b12a90 29.6%,#bc3587 34.1%,#c6417d 38.7%,#d04d73 43.3%,#d9586a 47.8%,#e16462 52.4%,#e87059 57.0%,#ef7e50 61.5%,#f58b47 66.1%,#f9983e 70.7%,#fca636 75.2%,#feb72d 79.8%,#fdc627 84.4%,#fbd724 88.9%,#f6e826 93.5%,#f0f921 98.1%,#f0f921 100.0%)"></i>
<i style="left:164px;background:linear-gradient(#5102a3 0.0%,#5901a5 2.6%,#6a00a8 7.2%,#7a02a8 11.7%,#8808a6 16.3%,#9613a1 20.8%,#a51f99 25.3%,#b12a90 29.9%,#bc3587 34.4%,#c6417d 39.0%,#d04d73 43.5%,#d9586a 48.1%,#e16462 52.6%,#e87059 57.2%,#ef7e50 61.7%,#f58b47 66.3%,#f9983e 70.8%,#fca636 75.4%,#feb72d 79.9%,#fdc627 84.5%,#fbd724 89.0%,#f6e826 93.6%,#f0f921 98.1%,#f0f921 100.0%)"></i>
<i style="left:166px;background:linear-gradient(#5002a2 0.0%,#5901a5 3.0%,#6a00a8 7.6%,#7a02a8 12.1%,#8808a6 16.6%,#9613a1 21.1%,#a51f99 25.7%,#b12a90 30.2%,#bc3587 34.7%,#c6417d 39.3%,#d04d73 43.8%,#d9586a 48.3%,#e16462 52.8%,#e87059 57.4%,#ef7e50 61.9%,#f58b47 66.4%,#f9983e 71.0%,#fca636 75.5%,#feb72d 80.0%,#fdc627 84.6%,#fbd724 89.1%,#f6e826 93.6%,#f0f921 98.1%,#f0f921 100.0%)"></i>
<i style="left:168px;background:linear-gradient(#4e02a2 0.0%,#5901a5 3.4%,#6a00a8 7.9%,#7a02a8 12.5%,#8808a6 17.0%,#9613a1 21.5%,#a51f99 26.0%,#b12a90 30.5%,#bc3587 35.0%,#c6417d 39.5%,#d04d73 44.0%,#d9586a 48.5%,#e16462 53.1%,#e87059 57.6%,#ef7e50 62.1%,#f58b47 66.6%,#f9983e 71.1%,#fca636 75.6%,#feb72d 80.1%,#fdc627 84.6%,#fbd724 89.2%,#f6e826 93.7%,#f0f921 98.2%,#f0f921 100.0%)"></i>
<i style="left:170px;background:linear-gradient(#4c02a1 0.0%,#5901a5 3.8%,#6a00a8 8.3%,#7a02a8 12.8%,#8808a6 17.3%,#9613a1 21.8%,#a51f99 26.3%,#b12a90 30.8%,#bc3587 35.3%,#c6417d 39.8%,#d04d73 44.3%,#d9586a 48.8%,#e16462 53.3%,#e87059 57.8%,#ef7e50 62.3%,#f58b47 66.8%,#f9983e 71.2%,#fca636 75.7%,#feb72d 80.2%,#fdc627 84.7%,#fbd724 89.2%,#f6e826 93.7%,#f0f921 98.2%,#f0f921 100.0%)"></i>
<i style="left:172px;background:linear-gradient(#4b03a1 0.0%,#5901a5 4.2%,#6a00a8 8.7%,#7a02a8 13.2%,#8808a6 17.6%,#9613a1 22.1%,#a51f99 26.6%,#b12a90 31.1%,#bc3587 35.6%,#c6417d 40.0%,#d04d73 44.5%,#d9586a 49.0%,#e16462 53.5%,#e87059 57.9%,#ef7e50 62.4%,#f58b47 66.9%,#f9983e 71.4%,#fca636 75.9%,#feb72d 80.3%,#fdc627 84.8%,#fbd724 89.3%,#f6e826 93.8%,#f0f921 98.2%,#f0f921 100.0%)"></i>
<i style="left:174px;background:linear-gradient(#4903a0 0.0%,#4903a0 0.1%,#5901a5 4.6%,#6a00a8 9.0%,#7a02a8 13.5%,#8808a6 18.0%,#9613a1 22.4%,#a51f99 26.9%,#b12a90 31.4%,#bc3587 35.8%,#c6417d 40.3%,#d04d73 44.7%,#d9586a 49.2%,#e16462 53.7%,#e87059 58.1%,#ef7e50 62.6%,#f58b47 67.1%,#f9983e 71.5%,#fca636 76.0%,#feb72d 80.4%,#fdc627 84.9%,#fbd724 89.4%,#f6e826 93.8%,#f0f921 98.3%,#f0f921 100.0%)"></i>
<i style="left:176px;background:linear-gradient(#48039f 0.0%,#4903a0 0.5%,#5901a5 4.9%,#6a00a8 9.4%,#7a02a8 13.8%,#8808a6 18.3%,#9613a1 22.7%,#a51f99 27.2%,#b12a90 31.6%,#bc3587 36.1%,#c6417d 40.5%,#d04d73 45.0%,#d9586a 49.4%,#e16462 53.9%,#e87059 58.3%,#ef7e50 62.7%,#f58b47 67.2%,#f9983e 71.6%,#fca636 76.1%,#feb72d 80.5%,#fdc627 85.0%,#fbd724 89.4%,#f6e826 93.9%,#f0f921 98.3%,#f0f921 100.0%)"></i>
<i style="left:178px;background:linear-gradient(#46039f 0.0%,#4903a0 0.9%,#5901a5 5.3%,#6a00a8 9.7%,#7a02a8 14.2%,#8808a6 18.6%,#9613a1 23.0%,#a51f99 27.5%,#b12a90 31.9%,#bc3587 36.3%,#c6417d 40.8%,#d04d73 45.2%,#d9586a 49.6%,#e16462 54.0%,#e87059 58.5%,#ef7e50 62.9%,#f58b47 67.3%,#f9983e 71.8%,#fca636 76.2%,#feb72d 80.6%,#fdc627 85.1%,#fbd724 89.5%,#f6e826 93.9%,#f0f921 98.4%,#f0f921 100.0%)"></i>
<i style="left:180px;background:linear-gradient(#44039e 0.0%,#4903a0 1.2%,#5901a5 5.6%,#6a00a8 10.1%,#7a02a8 14.5%,#8808a6 18.9%,#9613a1 23.3%,#a51f99 27.7%,#b12a90 32.1%,#bc3587 36.6%,#c6417d 41.0%,#d04d73 45.4%,#d9586a 49.8%,#e16462 54.2%,#e87059 58.6%,#ef7e50 63.1%,#f58b47 67.5%,#f9983e 71.9%,#fca636 76.3%,#feb72d 80.7%,#fdc627 85.1%,#fbd724 89.6%,#f6e826 94.0%,#f0f921 98.4%,#f0f921 100.0%)"></i>
<i style="left:182px;background:linear-gradient(#44039e 0.0%,#4903a0 1.6%,#5901a5 6.0%,#6a00a8 10.4%,#7a02a8 14.8%,#8808a6 19.2%,#9613a1 23.6%,#a51f99 28.0%,#b12a90 32.4%,#bc3587 36.8%,#c6417d 41.2%,#d04d73 45.6%,#d9586a 50.0%,#e16462 54.4%,#e87059 58.8%,#ef7e50 63.2%,#f58b47 67.6%,#f9983e 72.0%,#fca636 76.4%,#feb72d 80.8%,#fdc627 85.2%,#fbd724 89.6%,#f6e826 94.0%,#f0f921 98.4%,#f0f921 100.0%)"></i>
<i style="left:184px;background:linear-gradient(#43039e 0.0%,#4903a0 1.9%,#5901a5 6.3%,#6a00a8 10.7%,#7a02a8 15.1%,#8808a6 19.5%,#9613a1 23.9%,#a51f99 28.2%,#b12a90 32.6%,#bc3587 37.0%,#c6417d 41.4%,#d04d73 45.8%,#d9586a 50.2%,#e16462 54.6%,#e87059 59.0%,#ef7e50 63.4%,#f58b47 67.7%,#f9983e 72.1%,#fca636 76.5%,#feb72d 80.9%,#fdc627 85.3%,#fbd724 89.7%,#f6e826 94.1%,#f0f921 98.5%,#f0f921 100.0%)"></i>
<i style="left:186px;background:linear-gradient(#41049d 0.0%,#4903a0 2.2%,#5901a5 6.6%,#6a00a8 11.0%,#7a02a8 15.4%,#8808a6 19.7%,#9613a1 24.1%,#a51f99 28.5%,#b12a90 32.9%,#bc3587 37.2%,#c6417d 41.6%,#d04d73 46.0%,#d9586a 50.4%,#e16462 54.7%,#e87059 59.1%,#ef7e50 63.5%,#f58b47 67.9%,#f9983e 72.2%,#fca636 76.6%,#feb72d 81.0%,#fdc627 85.4%,#fbd724 89.7%,#f6e826 94.1%,#f0f921 98.5%,#f0f921 100.0%)"></i>
<i style="left:188px;background:linear-gradient(#3f049c 0.0%,#4903a0 2.6%,#5901a5 6.9%,#6a00a8 11.3%,#7a02a8 15.7%,#8808a6 20.0%,#9613a1 24.4%,#a51f99 28.7%,#b12a90 33.1%,#bc3587 37.5%,#c6417d 41.8%,#d04d73 46.2%,#d9586a 50.5%,#e16462 54.9%,#e87059 59.3%,#ef7e50 63.6%,#f58b47 68.0%,#f9983e 72.4%,#fca636 76.7%,#feb72d 81.1%,#fdc627 85.4%,#fbd724 89.8%,#f6e826 94.2%,#f0f921 98.5%,#f0f921 100.0%)"></i>
<i style="left:190px;background:linear-gradient(#3e049c 0.0%,#4903a0 2.9%,#5901a5 7.2%,#6a00a8 11.6%,#7a02a8 15.9%,#8808a6 20.3%,#9613a1 24.6%,#a51f99 29.0%,#b12a90 33.3%,#bc3587 37.7%,#c6417d 42.0%,#d04d73 46.4%,#d9586a 50.7%,#e16462 55.1%,#e87059 59.4%,#ef7e50 63.8%,#f58b47 68.1%,#f9983e 72.5%,#fca636 76.8%,#feb72d 81.2%,#fdc627 85.5%,#fbd724 89.9%,#f6e826 94.2%,#f0f921 98.6%,#f0f921 100.0%)"></i>
<i style="left:192px;background:linear-gradient(#3e049c 0.0%,#4903a0 3.2%,#5901a5 7.5%,#6a00a8 11.9%,#7a02a8 16.2%,#8808a6 20.5%,#9613a1 24.9%,#a51f99 29.2%,#b12a90 33.5%,#bc3587 37.9%,#c6417d 42.2%,#d04d73 46.6%,#d9586a 50.9%,#e16462 55.2%,#e87059 59.6%,#ef7e50 63.9%,#f58b47 68.2%,#f9983e 72.6%,#fca636 76.9%,#feb72d 81.2%,#fdc627 85.6%,#fbd724 89.9%,#f6e826 94.3%,#f0f921 98.6%,#f0f921 100.0%)"></i>
<i style="left:194px;background:linear-gradient(#3c049b 0.0%,#4903a0 3.5%,#5901a5 7.8%,#6a00a8 12.1%,#7a02a8 16.5%,#8808a6 20.8%,#9613a1 25.1%,#a51f99 29.4%,#b12a90 33.8%,#bc3587 38.1%,#c6417d 42.4%,#d04d73 46.7%,#d9586a 51.1%,#e16462 55.4%,#e87059 59.7%,#ef7e50 64.0%,#f58b47 68.4%,#f9983e 72.7%,#fca636 77.0%,#feb72d 81.3%,#fdc627 85.7%,#fbd724 90.0%,#f6e826 94.3%,#f0f921 98.6%,#f0f921 100.0%)"></i>
<i style="left:196px;background:linear-gradient(#3a049a 0.0%,#4903a0 3.8%,#5901a5 8.1%,#6a00a8 12.4%,#7a02a8 16.7%,#8808a6 21.0%,#9613a1 25.3%,#a51f99 29.6%,#b12a90 34.0%,#bc3587 38.3%,#c6417d 42.6%,#d04d73 46.9%,#d9586a 51.2%,#e16462 55.5%,#e87059 59.8%,#ef7e50 64.2%,#f58b47 68.5%,#f9983e 72.8%,#fca636 77.1%,#feb72d 81.4%,#fdc627 85.7%,#fbd724 90.0%,#f6e826 94.4%,#f0f921 98.7%,#f0f921 100.0%)"></i>
<i style="left:198px;background:linear-gradient(#3a049a 0.0%,#4903a0 4.1%,#5901a5 8.4%,#6a00a8 12.7%,#7a02a8 17.0%,#8808a6 21.3%,#9613a1 25.6%,#a51f99 29.9%,#b12a90 34.2%,#bc3587 38.5%,#c6417d 42.8%,#d04d73 47.1%,#d9586a 51.4%,#e16462 55.7%,#e87059 60.0%,#ef7e50 64.3%,#f58b47 68.6%,#f9983e 72.9%,#fca636 77.2%,#feb72d 81.5%,#fdc627 85.8%,#fbd724 90.1%,#f6e826 94.4%,#f0f921 98.7%,#f0f921 100.0%)"></i>
<i style="left:200px;background:linear-gradient(#38049a 0.0%,#38049a 0.0%,#4903a0 4.3%,#5901a5 8.6%,#6a00a8 12.9%,#7a02a8 17.2%,#8808a6 21.5%,#9613a1 25.8%,#a51f99 30.1%,#b12a90 34.4%,#bc3587 38.7%,#c6417d 42.9%,#d04d73 47.2%,#d9586a 51.5%,#e16462 55.8%,#e87059 60.1%,#ef7e50 64.4%,#f58b47 68.7%,#f9983e 73.0%,#fca636 77.3%,#feb72d 81.6%,#fdc627 85.9%,#fbd724 90.2%,#f6e826 94.4%,#f0f921 98.7%,#f0f921 100.0%)"></i>
<i style="left:202px;background:linear-gradient(#370499 0.0%,#38049a 0.3%,#4903a0 4.6%,#5901a5 8.9%,#6a00a8 13.2%,#7a02a8 17.4%,#8808a6 21.7%,#9613a1 26.0%,#a51f99 30.3%,#b12a90 34.6%,#bc3587 38.8%,#c6417d 43.1%,#d04d73 47.4%,#d9586a 51.7%,#e16462 56.0%,#e87059 60.2%,#ef7e50 64.5%,#f58b47 68.8%,#f9983e 73.1%,#fca636 77.4%,#feb72d 81.7%,#fdc627 85.9%,#fbd724 90.2%,#f6e826 94.5%,#f0f921 98.8%,#f0f921 100.0%)"></i>
<i style="left:204px;background:linear-gradient(#370499 0.0%,#38049a 0.6%,#4903a0 4.9%,#5901a5 9.1%,#6a00a8 13.4%,#7a02a8 17.7%,#8808a6 21.9%,#9613a1 26.2%,#a51f99 30.5%,#b12a90 34.8%,#bc3587 39.0%,#c6417d 43.3%,#d04d73 47.6%,#d9586a 51.8%,#e16462 56.1%,#e87059 60.4%,#ef7e50 64.6%,#f58b47 68.9%,#f9983e 73.2%,#fca636 77.5%,#feb72d 81.7%,#fdc627 86.0%,#fbd724 90.3%,#f6e826 94.5%,#f0f921 98.8%,#f0f921 100.0%)"></i>
<i style="left:206px;background:linear-gradient(#350498 0.0%,#38049a 0.8%,#4903a0 5.1%,#5901a5 9.4%,#6a00a8 13.6%,#7a02a8 17.9%,#8808a6 22.2%,#9613a1 26.4%,#a51f99 30.7%,#b12a90 34.9%,#bc3587 39.2%,#c6417d 43.5%,#d04d73 47.7%,#d9586a 52.0%,#e16462 56.2%,#e87059 60.5%,#ef7e50 64.8%,#f58b47 69.0%,#f9983e 73.3%,#fca636 77.5%,#feb72d 81.8%,#fdc627 86.1%,#fbd724 90.3%,#f6e826 94.6%,#f0f921 98.9%,#f0f921 100.0%)"></i>
<i style="left:208px;background:linear-gradient(#330597 0.0%,#38049a 1.1%,#4903a0 5.4%,#5901a5 9.6%,#6a00a8 13.9%,#7a02a8 18.1%,#8808a6 22.4%,#9613a1 26.6%,#a51f99 30.9%,#b12a90 35.1%,#bc3587 39.4%,#c6417d 43.6%,#d04d73 47.9%,#d9586a 52.1%,#e16462 56.4%,#e87059 60.6%,#ef7e50 64.9%,#f58b47 69.1%,#f9983e 73.4%,#fca636 77.6%,#feb72d 81.9%,#fdc627 86.1%,#fbd724 90.4%,#f6e826 94.6%,#f0f921 98.9%,#f0f921 100.0%)"></i>
<i style="left:210px;background:linear-gradient(#330597 0.0%,#38049a 1.4%,#4903a0 5.6%,#5901a5 9.8%,#6a00a8 14.1%,#7a02a8 18.3%,#8808a6 22.6%,#9613a1 26.8%,#a51f99 31.1%,#b12a90 35.3%,#bc3587 39.5%,#c6417d 43.8%,#d04d73 48.0%,#d9586a 52.3%,#e16462 56.5%,#e87059 60.8%,#ef7e50 65.0%,#f58b47 69.2%,#f9983e 73.5%,#fca636 77.7%,#feb72d 82.0%,#fdc627 86.2%,#fbd724 90.5%,#f6e826 94.7%,#f0f921 98.9%,#f0f921 100.0%)"></i>
<i style="left:212px;background:linear-gradient(#310597 0.0%,#38049a 1.6%,#4903a0 5.8%,#5901a5 10.1%,#6a00a8 14.3%,#7a02a8 18.5%,#8808a6 22.8%,#9613a1 27.0%,#a51f99 31.2%,#b12a90 35.5%,#bc3587 39.7%,#c6417d 43.9%,#d04d73 48.2%,#d9586a 52.4%,#e16462 56.6%,#e87059 60.9%,#ef7e50 65.1%,#f58b47 69.3%,#f9983e 73.6%,#fca636 77.8%,#feb72d 82.0%,#fdc627 86.3%,#fbd724 90.5%,#f6e826 94.7%,#f0f921 99.0%,#f0f921 100.0%)"></i>
<i style="left:214px;background:linear-gradient(#2f0596 0.0%,#38049a 1.9%,#4903a0 6.1%,#5901a5 10.3%,#6a00a8 14.5%,#7a02a8 18.8%,#8808a6 23.0%,#9613a1 27.2%,#a51f99 31.4%,#b12a90 35.7%,#bc3587 39.9%,#c6417d 44.1%,#d04d73 48.3%,#d9586a 52.5%,#e16462 56.8%,#e87059 61.0%,#ef7e50 65.2%,#f58b47 69.4%,#f9983e 73.7%,#fca636 77.9%,#feb72d 82.1%,#fdc627 86.3%,#fbd724 90.6%,#f6e826 94.8%,#f0f921 99.0%,#f0f921 100.0%)"></i>
<i style="left:216px;background:linear-gradient(#2f0596 0.0%,#38049a 2.1%,#4903a0 6.3%,#5901a5 10.5%,#6a00a8 14.7%,#7a02a8 19.0%,#8808a6 23.2%,#9613a1 27.4%,#a51f99 31.6%,#b12a90 35.8%,#bc3587 40.0%,#c6417d 44.3%,#d04d73 48.5%,#d9586a 52.7%,#e16462 56.9%,#e87059 61.1%,#ef7e50 65.3%,#f58b47 69.6%,#f9983e 73.8%,#fca636 78.0%,#feb72d 82.2%,#fdc627 86.4%,#fbd724 90.6%,#f6e826 94.9%,#f0f921 99.1%,#f0f921 100.0%)"></i>
<i style="left:218px;background:linear-gradient(#2e0595 0.0%,#38049a 2.3%,#4903a0 6.5%,#5901a5 10.7%,#6a00a8 14.9%,#7a02a8 19.2%,#8808a6 23.4%,#9613a1 27.6%,#a51f99 31.8%,#b12a90 36.0%,#bc3587 40.2%,#c6417d 44.4%,#d04d73 48.6%,#d9586a 52.8%,#e16462 57.0%,#e87059 61.2%,#ef7e50 65.4%,#f58b47 69.7%,#f9983e 73.9%,#fca636 78.1%,#feb72d 82.3%,#fdc627 86.5%,#fbd724 90.7%,#f6e826 94.9%,#f0f921 99.1%,#f0f921 100.0%)"></i>
<i style="left:220px;background:linear-gradient(#2e0595 0.0%,#38049a 2.5%,#4903a0 6.7%,#5901a5 10.9%,#6a00a8 15.1%,#7a02a8 19.3%,#8808a6 23.6%,#9613a1 27.8%,#a51f99 32.0%,#b12a90 36.2%,#bc3587 40.4%,#c6417d 44.6%,#d04d73 48.8%,#d9586a 53.0%,#e16462 57.2%,#e87059 61.4%,#ef7e50 65.6%,#f58b47 69.8%,#f9983e 74.0%,#fca636 78.2%,#feb72d 82.4%,#fdc627 86.6%,#fbd724 90.8%,#f6e826 95.0%,#f0f921 99.2%,#f0f921 100.0%)"></i>
<i style="left:222px;background:linear-gradient(#2c0594 0.0%,#38049a 2.8%,#4903a0 7.0%,#5901a5 11.2%,#6a00a8 15.3%,#7a02a8 19.5%,#8808a6 23.7%,#9613a1 27.9%,#a51f99 32.1%,#b12a90 36.3%,#bc3587 40.5%,#c6417d 44.7%,#d04d73 48.9%,#d9586a 53.1%,#e16462 57.3%,#e87059 61.5%,#ef7e50 65.7%,#f58b47 69.9%,#f9983e 74.1%,#fca636 78.2%,#feb72d 82.4%,#fdc627 86.6%,#fbd724 90.8%,#f6e826 95.0%,#f0f921 99.2%,#f0f921 100.0%)"></i>
<i style="left:224px;background:linear-gradient(#2c0594 0.0%,#38049a 3.0%,#4903a0 7.2%,#5901a5 11.4%,#6a00a8 15.5%,#7a02a8 19.7%,#8808a6 23.9%,#9613a1 28.1%,#a51f99 32.3%,#b12a90 36.5%,#bc3587 40.7%,#c6417d 44.8%,#d04d73 49.0%,#d9586a 53.2%,#e16462 57.4%,#e87059 61.6%,#ef7e50 65.8%,#f58b47 70.0%,#f9983e 74.2%,#fca636 78.3%,#feb72d 82.5%,#fdc627 86.7%,#fbd724 90.9%,#f6e826 95.1%,#f0f921 99.3%,#f0f921 100.0%)"></i>
<i style="left:226px;background:linear-gradient(#2a0593 0.0%,#38049a 3.2%,#4903a0 7.4%,#5901a5 11.6%,#6a00a8 15.7%,#7a02a8 19.9%,#8808a6 24.1%,#9613a1 28.3%,#a51f99 32.5%,#b12a90 36.6%,#bc3587 40.8%,#c6417d 45.0%,#d04d73 49.2%,#d9586a 53.4%,#e16462 57.5%,#e87059 61.7%,#ef7e50 65.9%,#f58b47 70.1%,#f9983e 74.2%,#fca636 78.4%,#feb72d 82.6%,#fdc627 86.8%,#fbd724 91.0%,#f6e826 95.1%,#f0f921 99.3%,#f0f921 100.0%)"></i>
<i style="left:228px;background:linear-gradient(#2a0593 0.0%,#38049a 3.4%,#4903a0 7.6%,#5901a5 11.8%,#6a00a8 15.9%,#7a02a8 20.1%,#8808a6 24.3%,#9613a1 28.4%,#a51f99 32.6%,#b12a90 36.8%,#bc3587 41.0%,#c6417d 45.1%,#d04d73 49.3%,#d9586a 53.5%,#e16462 57.7%,#e87059 61.8%,#ef7e50 66.0%,#f58b47 70.2%,#f9983e 74.3%,#fca636 78.5%,#feb72d 82.7%,#fdc627 86.9%,#fbd724 91.0%,#f6e826 95.2%,#f0f921 99.4%,#f0f921 100.0%)"></i>
<i style="left:230px;background:linear-gradient(#280592 0.0%,#38049a 3.6%,#4903a0 7.8%,#5901a5 11.9%,#6a00a8 16.1%,#7a02a8 20.3%,#8808a6 24.4%,#9613a1 28.6%,#a51f99 32.8%,#b12a90 36.9%,#bc3587 41.1%,#c6417d 45.3%,#d04d73 49.4%,#d9586a 53.6%,#e16462 57.8%,#e87059 61.9%,#ef7e50 66.1%,#f58b47 70.3%,#f9983e 74.4%,#fca636 78.6%,#feb72d 82.8%,#fdc627 86.9%,#fbd724 91.1%,#f6e826 95.3%,#f0f921 99.4%,#f0f921 100.0%)"></i>
<i style="left:232px;background:linear-gradient(#280592 0.0%,#38049a 3.8%,#4903a0 8.0%,#5901a5 12.1%,#6a00a8 16.3%,#7a02a8 20.5%,#8808a6 24.6%,#9613a1 28.8%,#a51f99 32.9%,#b12a90 37.1%,#bc3587 41.3%,#c6417d 45.4%,#d04d73 49.6%,#d9586a 53.7%,#e16462 57.9%,#e87059 62.1%,#ef7e50 66.2%,#f58b47 70.4%,#f9983e 74.5%,#fca636 78.7%,#feb72d 82.9%,#fdc627 87.0%,#fbd724 91.2%,#f6e826 95.3%,#f0f921 99.5%,#f0f921 100.0%)"></i>
<i style="left:234px;background:linear-gradient(#260591 0.0%,#38049a 4.0%,#4903a0 8.2%,#5901a5 12.3%,#6a00a8 16.5%,#7a02a8 20.6%,#8808a6 24.8%,#9613a1 28.9%,#a51f99 33.1%,#b12a90 37.3%,#bc3587 41.4%,#c6417d 45.6%,#d04d73 49.7%,#d9586a 53.9%,#e16462 58.0%,#e87059 62.2%,#ef7e50 66.3%,#f58b47 70.5%,#f9983e 74.6%,#fca636 78.8%,#feb72d 82.9%,#fdc627 87.1%,#fbd724 91.3%,#f6e826 95.4%,#f0f921 99.6%,#f0f921 100.0%)"></i>
<i style="left:236px;background:linear-gradient(#260591 0.0%,#260591 0.1%,#38049a 4.2%,#4903a0 8.4%,#5901a5 12.5%,#6a00a8 16.7%,#7a02a8 20.8%,#8808a6 25.0%,#9613a1 29.1%,#a51f99 33.3%,#b12a90 37.4%,#bc3587 41.5%,#c6417d 45.7%,#d04d73 49.8%,#d9586a 54.0%,#e16462 58.1%,#e87059 62.3%,#ef7e50 66.4%,#f58b47 70.6%,#f9983e 74.7%,#fca636 78.9%,#feb72d 83.0%,#fdc627 87.2%,#fbd724 91.3%,#f6e826 95.5%,#f0f921 99.6%,#f0f921 100.0%)"></i>
<i style="left:238px;background:linear-gradient(#240691 0.0%,#260591 0.3%,#38049a 4.4%,#4903a0 8.6%,#5901a5 12.7%,#6a00a8 16.8%,#7a02a8 21.0%,#8808a6 25.1%,#9613a1 29.3%,#a51f99 33.4%,#b12a90 37.5%,#bc3587 41.7%,#c6417d 45.8%,#d04d73 50.0%,#d9586a 54.1%,#e16462 58.3%,#e87059 62.4%,#ef7e50 66.5%,#f58b47 70.7%,#f9983e 74.8%,#fca636 79.0%,#feb72d 83.1%,#fdc627 87.3%,#fbd724 91.4%,#f6e826 95.5%,#f0f921 99.7%,#f0f921 100.0%)"></i>
<i style="left:240px;background:linear-gradient(#240691 0.0%,#260591 0.5%,#38049a 4.6%,#4903a0 8.7%,#5901a5 12.9%,#6a00a8 17.0%,#7a02a8 21.1%,#8808a6 25.3%,#9613a1 29.4%,#a51f99 33.6%,#b12a90 37.7%,#bc3587 41.8%,#c6417d 46.0%,#d04d73 50.1%,#d9586a 54.2%,#e16462 58.4%,#e87059 62.5%,#ef7e50 66.7%,#f58b47 70.8%,#f9983e 74.9%,#fca636 79.1%,#feb72d 83.2%,#fdc627 87.3%,#fbd724 91.5%,#f6e826 95.6%,#f0f921 99.8%,#f0f921 100.0%)"></i>
<i style="left:242px;background:linear-gradient(#220690 0.0%,#260591 0.6%,#38049a 4.8%,#4903a0 8.9%,#5901a5 13.0%,#6a00a8 17.2%,#7a02a8 21.3%,#8808a6 25.4%,#9613a1 29.6%,#a51f99 33.7%,#b12a90 37.8%,#bc3587 42.0%,#c6417d 46.1%,#d04d73 50.2%,#d9586a 54.4%,#e16462 58.5%,#e87059 62.6%,#ef7e50 66.8%,#f58b47 70.9%,#f9983e 75.0%,#fca636 79.2%,#feb72d 83.3%,#fdc627 87.4%,#fbd724 91.6%,#f6e826 95.7%,#f0f921 99.8%,#f0f921 100.0%)"></i>
<i style="left:244px;background:linear-gradient(#220690 0.0%,#260591 0.8%,#38049a 4.9%,#4903a0 9.1%,#5901a5 13.2%,#6a00a8 17.3%,#7a02a8 21.5%,#8808a6 25.6%,#9613a1 29.7%,#a51f99 33.8%,#b12a90 38.0%,#bc3587 42.1%,#c6417d 46.2%,#d04d73 50.4%,#d9586a 54.5%,#e16462 58.6%,#e87059 62.7%,#ef7e50 66.9%,#f58b47 71.0%,#f9983e 75.1%,#fca636 79.3%,#feb72d 83.4%,#fdc627 87.5%,#fbd724 91.6%,#f6e826 95.8%,#f0f921 99.9%,#f0f921 100.0%)"></i>
<i style="left:246px;background:linear-gradient(#20068f 0.0%,#260591 1.0%,#38049a 5.1%,#4903a0 9.2%,#5901a5 13.3%,#6a00a8 17.5%,#7a02a8 21.6%,#8808a6 25.7%,#9613a1 29.8%,#a51f99 34.0%,#b12a90 38.1%,#bc3587 42.2%,#c6417d 46.3%,#d04d73 50.5%,#d9586a 54.6%,#e16462 58.7%,#e87059 62.8%,#ef7e50 67.0%,#f58b47 71.1%,#f9983e 75.2%,#fca636 79.3%,#feb72d 83.5%,#fdc627 87.6%,#fbd724 91.7%,#f6e826 95.8%,#f0f921 100.0%,#f0f921 100.0%)"></i>
<i style="left:248px;background:linear-gradient(#20068f 0.0%,#260591 1.1%,#38049a 5.2%,#4903a0 9.4%,#5901a5 13.5%,#6a00a8 17.6%,#7a02a8 21.7%,#8808a6 25.9%,#9613a1 30.0%,#a51f99 34.1%,#b12a90 38.2%,#bc3587 42.3%,#c6417d 46.5%,#d04d73 50.6%,#d9586a 54.7%,#e16462 58.8%,#e87059 63.0%,#ef7e50 67.1%,#f58b47 71.2%,#f9983e 75.3%,#fca636 79.4%,#feb72d 83.6%,#fdc627 87.7%,#fbd724 91.8%,#f6e826 95.9%,#f0f921 100.0%)"></i>
<i style="left:250px;background:linear-gradient(#20068f 0.0%,#260591 1.3%,#38049a 5.4%,#4903a0 9.5%,#5901a5 13.6%,#6a00a8 17.7%,#7a02a8 21.9%,#8808a6 26.0%,#9613a1 30.1%,#a51f99 34.2%,#b12a90 38.3%,#bc3587 42.5%,#c6417d 46.6%,#d04d73 50.7%,#d9586a 54.8%,#e16462 58.9%,#e87059 63.1%,#ef7e50 67.2%,#f58b47 71.3%,#f9983e 75.4%,#fca636 79.5%,#feb72d 83.6%,#fdc627 87.8%,#fbd724 91.9%,#f6e826 96.0%,#f0f921 100.0%)"></i>
<i style="left:252px;background:linear-gradient(#1d068e 0.0%,#260591 1.4%,#38049a 5.5%,#4903a0 9.6%,#5901a5 13.7%,#6a00a8 17.9%,#7a02a8 22.0%,#8808a6 26.1%,#9613a1 30.2%,#a51f99 34.3%,#b12a90 38.4%,#bc3587 42.6%,#c6417d 46.7%,#d04d73 50.8%,#d9586a 54.9%,#e16462 59.0%,#e87059 63.1%,#ef7e50 67.3%,#f58b47 71.4%,#f9983e 75.5%,#fca636 79.6%,#feb72d 83.7%,#fdc627 87.8%,#fbd724 92.0%,#f6e826 96.1%,#f0f921 100.0%)"></i>
<i style="left:254px;background:linear-gradient(#1d068e 0.0%,#260591 1.5%,#38049a 5.6%,#4903a0 9.7%,#5901a5 13.9%,#6a00a8 18.0%,#7a02a8 22.1%,#8808a6 26.2%,#9613a1 30.3%,#a51f99 34.4%,#b12a90 38.5%,#bc3587 42.7%,#c6417d 46.8%,#d04d73 50.9%,#d9586a 55.0%,#e16462 59.1%,#e87059 63.2%,#ef7e50 67.4%,#f58b47 71.5%,#f9983e 75.6%,#fca636 79.7%,#feb72d 83.8%,#fdc627 87.9%,#fbd724 92.0%,#f6e826 96.2%,#f0f921 100.0%)"></i>
<i style="left:256px;background:linear-gradient(#1d068e 0.0%,#260591 1.6%,#38049a 5.7%,#4903a0 9.8%,#5901a5 13.9%,#6a00a8 18.1%,#7a02a8 22.2%,#8808a6 26.3%,#9613a1 30.4%,#a51f99 34.5%,#b12a90 38.6%,#bc3587 42.8%,#c6417d 46.9%,#d04d73 51.0%,#d9586a 55.1%,#e16462 59.2%,#e87059 63.3%,#ef7e50 67.4%,#f58b47 71.6%,#f9983e 75.7%,#fca636 79.8%,#feb72d 83.9%,#fdc627 88.0%,#fbd724 92.1%,#f6e826 96.2%,#f0f921 100.0%)"></i>
<i style="left:258px;background:linear-gradient(#1d068e 0.0%,#260591 1.7%,#38049a 5.8%,#4903a0 9.9%,#5901a5 14.0%,#6a00a8 18.1%,#7a02a8 22.3%,#8808a6 26.4%,#9613a1 30.5%,#a51f99 34.6%,#b12a90 38.7%,#bc3587 42.8%,#c6417d 46.9%,#d04d73 51.1%,#d9586a 55.2%,#e16462 59.3%,#e87059 63.4%,#ef7e50 67.5%,#f58b47 71.6%,#f9983e 75.7%,#fca636 79.9%,#feb72d 84.0%,#fdc627 88.1%,#fbd724 92.2%,#f6e826 96.3%,#f0f724 100.0%)"></i>
<i style="left:260px;background:linear-gradient(#1b068d 0.0%,#260591 1.7%,#38049a 5.9%,#4903a0 10.0%,#5901a5 14.1%,#6a00a8 18.2%,#7a02a8 22.3%,#8808a6 26.4%,#9613a1 30.6%,#a51f99 34.7%,#b12a90 38.8%,#bc3587 42.9%,#c6417d 47.0%,#d04d73 51.1%,#d9586a 55.2%,#e16462 59.4%,#e87059 63.5%,#ef7e50 67.6%,#f58b47 71.7%,#f9983e 75.8%,#fca636 79.9%,#feb72d 84.0%,#fdc627 88.2%,#fbd724 92.3%,#f6e826 96.4%,#f0f724 100.0%)"></i>
<i style="left:262px;background:linear-gradient(#1b068d 0.0%,#260591 1.8%,#38049a 5.9%,#4903a0 10.0%,#5901a5 14.1%,#6a00a8 18.3%,#7a02a8 22.4%,#8808a6 26.5%,#9613a1 30.6%,#a51f99 34.7%,#b12a90 38.8%,#bc3587 43.0%,#c6417d 47.1%,#d04d73 51.2%,#d9586a 55.3%,#e16462 59.4%,#e87059 63.5%,#ef7e50 67.7%,#f58b47 71.8%,#f9983e 75.9%,#fca636 80.0%,#feb72d 84.1%,#fdc627 88.2%,#fbd724 92.4%,#f6e826 96.5%,#f0f724 100.0%)"></i>
<i style="left:264px;background:linear-gradient(#1b068d 0.0%,#260591 1.8%,#38049a 5.9%,#4903a0 10.1%,#5901a5 14.2%,#6a00a8 18.3%,#7a02a8 22.4%,#8808a6 26.5%,#9613a1 30.6%,#a51f99 34.8%,#b12a90 38.9%,#bc3587 43.0%,#c6417d 47.1%,#d04d73 51.2%,#d9586a 55.4%,#e16462 59.5%,#e87059 63.6%,#ef7e50 67.7%,#f58b47 71.8%,#f9983e 76.0%,#fca636 80.1%,#feb72d 84.2%,#fdc627 88.3%,#fbd724 92.4%,#f6e826 96.5%,#f0f724 100.0%)"></i>
<i style="left:266px;background:linear-gradient(#1b068d 0.0%,#260591 1.8%,#38049a 5.9%,#4903a0 10.1%,#5901a5 14.2%,#6a00a8 18.3%,#7a02a8 22.4%,#8808a6 26.5%,#9613a1 30.7%,#a51f99 34.8%,#b12a90 38.9%,#bc3587 43.0%,#c6417d 47.2%,#d04d73 51.3%,#d9586a 55.4%,#e16462 59.5%,#e87059 63.6%,#ef7e50 67.8%,#f58b47 71.9%,#f9983e 76.0%,#fca636 80.1%,#feb72d 84.3%,#fdc627 88.4%,#fbd724 92.5%,#f6e826 96.6%,#f0f724 100.0%)"></i>
<i style="left:268px;background:linear-gradient(#1b068d 0.0%,#260591 1.8%,#38049a 5.9%,#4903a0 10.1%,#5901a5 14.2%,#6a00a8 18.3%,#7a02a8 22.4%,#8808a6 26.6%,#9613a1 30.7%,#a51f99 34.8%,#b12a90 38.9%,#bc3587 43.1%,#c6417d 47.2%,#d04d73 51.3%,#d9586a 55.4%,#e16462 59.6%,#e87059 63.7%,#ef7e50 67.8%,#f58b47 71.9%,#f9983e 76.1%,#fca636 80.2%,#feb72d 84.3%,#fdc627 88.4%,#fbd724 92.6%,#f6e826 96.7%,#f1f525 100.0%)"></i>
<i style="left:270px;background:linear-gradient(#1b068d 0.0%,#260591 1.8%,#38049a 5.9%,#4903a0 10.0%,#5901a5 14.1%,#6a00a8 18.3%,#7a02a8 22.4%,#8808a6 26.5%,#9613a1 30.7%,#a51f99 34.8%,#b12a90 38.9%,#bc3587 43.1%,#c6417d 47.2%,#d04d73 51.3%,#d9586a 55.5%,#e16462 59.6%,#e87059 63.7%,#ef7e50 67.8%,#f58b47 72.0%,#f9983e 76.1%,#fca636 80.2%,#feb72d 84.4%,#fdc627 88.5%,#fbd724 92.6%,#f6e826 96.8%,#f1f525 100.0%)"></i>
<i style="left:272px;background:linear-gradient(#1d068e 0.0%,#260591 1.7%,#38049a 5.8%,#4903a0 10.0%,#5901a5 14.1%,#6a00a8 18.2%,#7a02a8 22.4%,#8808a6 26.5%,#9613a1 30.6%,#a51f99 34.8%,#b12a90 38.9%,#bc3587 43.1%,#c6417d 47.2%,#d04d73 51.3%,#d9586a 55.5%,#e16462 59.6%,#e87059 63.7%,#ef7e50 67.9%,#f58b47 72.0%,#f9983e 76.2%,#fca636 80.3%,#feb72d 84.4%,#fdc627 88.6%,#fbd724 92.7%,#f6e826 96.8%,#f1f525 100.0%)"></i>
<i style="left:274px;background:linear-gradient(#1d068e 0.0%,#260591 1.6%,#38049a 5.7%,#4903a0 9.9%,#5901a5 14.0%,#6a00a8 18.2%,#7a02a8 22.3%,#8808a6 26.5%,#9613a1 30.6%,#a51f99 34.7%,#b12a90 38.9%,#bc3587 43.0%,#c6417d 47.2%,#d04d73 51.3%,#d9586a 55.5%,#e16462 59.6%,#e87059 63.8%,#ef7e50 67.9%,#f58b47 72.0%,#f9983e 76.2%,#fca636 80.3%,#feb72d 84.5%,#fdc627 88.6%,#fbd724 92.8%,#f6e826 96.9%,#f1f525 100.0%)"></i>
<i style="left:276px;background:linear-gradient(#1d068e 0.0%,#260591 1.5%,#38049a 5.6%,#4903a0 9.8%,#5901a5 13.9%,#6a00a8 18.1%,#7a02a8 22.2%,#8808a6 26.4%,#9613a1 30.5%,#a51f99 34.7%,#b12a90 38.8%,#bc3587 43.0%,#c6417d 47.1%,#d04d73 51.3%,#d9586a 55.4%,#e16462 59.6%,#e87059 63.8%,#ef7e50 67.9%,#f58b47 72.1%,#f9983e 76.2%,#fca636 80.4%,#feb72d 84.5%,#fdc627 88.7%,#fbd724 92.8%,#f6e826 97.0%,#f1f525 100.0%)"></i>
<i style="left:278px;background:linear-gradient(#20068f 0.0%,#260591 1.3%,#38049a 5.5%,#4903a0 9.6%,#5901a5 13.8%,#6a00a8 18.0%,#7a02a8 22.1%,#8808a6 26.3%,#9613a1 30.4%,#a51f99 34.6%,#b12a90 38.8%,#bc3587 42.9%,#c6417d 47.1%,#d04d73 51.3%,#d9586a 55.4%,#e16462 59.6%,#e87059 63.7%,#ef7e50 67.9%,#f58b47 72.1%,#f9983e 76.2%,#fca636 80.4%,#feb72d 84.6%,#fdc627 88.7%,#fbd724 92.9%,#f6e826 97.0%,#f1f525 100.0%)"></i>
<i style="left:280px;background:linear-gradient(#20068f 0.0%,#260591 1.1%,#38049a 5.3%,#4903a0 9.5%,#5901a5 13.6%,#6a00a8 17.8%,#7a02a8 22.0%,#8808a6 26.2%,#9613a1 30.3%,#a51f99 34.5%,#b12a90 38.7%,#bc3587 42.9%,#c6417d 47.0%,#d04d73 51.2%,#d9586a 55.4%,#e16462 59.5%,#e87059 63.7%,#ef7e50 67.9%,#f58b47 72.1%,#f9983e 76.2%,#fca636 80.4%,#feb72d 84.6%,#fdc627 88.8%,#fbd724 92.9%,#f6e826 97.1%,#f1f426 100.0%)"></i>
<i style="left:282px;background:linear-gradient(#220690 0.0%,#260591 0.9%,#38049a 5.1%,#4903a0 9.3%,#5901a5 13.5%,#6a00a8 17.6%,#7a02a8 21.8%,#8808a6 26.0%,#9613a1 30.2%,#a51f99 34.4%,#b12a90 38.6%,#bc3587 42.8%,#c6417d 46.9%,#d04d73 51.1%,#d9586a 55.3%,#e16462 59.5%,#e87059 63.7%,#ef7e50 67.9%,#f58b47 72.1%,#f9983e 76.2%,#fca636 80.4%,#feb72d 84.6%,#fdc627 88.8%,#fbd724 93.0%,#f6e826 97.2%,#f1f426 100.0%)"></i>
<i style="left:284px;background:linear-gradient(#220690 0.0%,#260591 0.7%,#38049a 4.8%,#4903a0 9.0%,#5901a5 13.2%,#6a00a8 17.4%,#7a02a8 21.6%,#8808a6 25.8%,#9613a1 30.0%,#a51f99 34.2%,#b12a90 38.4%,#bc3587 42.6%,#c6417d 46.8%,#d04d73 51.0%,#d9586a 55.2%,#e16462 59.4%,#e87059 63.6%,#ef7e50 67.8%,#f58b47 72.0%,#f9983e 76.2%,#fca636 80.4%,#feb72d 84.6%,#fdc627 88.8%,#fbd724 93.0%,#f6e826 97.2%,#f1f426 100.0%)"></i>
<i style="left:286px;background:linear-gradient(#240691 0.0%,#260591 0.4%,#38049a 4.6%,#4903a0 8.8%,#5901a5 13.0%,#6a00a8 17.2%,#7a02a8 21.4%,#8808a6 25.6%,#9613a1 29.9%,#a51f99 34.1%,#b12a90 38.3%,#bc3587 42.5%,#c6417d 46.7%,#d04d73 50.9%,#d9586a 55.1%,#e16462 59.4%,#e87059 63.6%,#ef7e50 67.8%,#f58b47 72.0%,#f9983e 76.2%,#fca636 80.4%,#feb72d 84.6%,#fdc627 88.9%,#fbd724 93.1%,#f6e826 97.3%,#f1f426 100.0%)"></i>
<i style="left:288px;background:linear-gradient(#260591 0.0%,#260591 0.0%,#38049a 4.3%,#4903a0 8.5%,#5901a5 12.7%,#6a00a8 17.0%,#7a02a8 21.2%,#8808a6 25.4%,#9613a1 29.6%,#a51f99 33.9%,#b12a90 38.1%,#bc3587 42.3%,#c6417d 46.6%,#d04d73 50.8%,#d9586a 55.0%,#e16462 59.3%,#e87059 63.5%,#ef7e50 67.7%,#f58b47 71.9%,#f9983e 76.2%,#fca636 80.4%,#feb72d 84.6%,#fdc627 88.9%,#fbd724 93.1%,#f6e826 97.3%,#f1f426 100.0%)"></i>
<i style="left:290px;background:linear-gradient(#280592 0.0%,#38049a 3.9%,#4903a0 8.2%,#5901a5 12.4%,#6a00a8 16.7%,#7a02a8 20.9%,#8808a6 25.2%,#9613a1 29.4%,#a51f99 33.7%,#b12a90 37.9%,#bc3587 42.1%,#c6417d 46.4%,#d04d73 50.6%,#d9586a 54.9%,#e16462 59.1%,#e87059 63.4%,#ef7e50 67.6%,#f58b47 71.9%,#f9983e 76.1%,#fca636 80.4%,#feb72d 84.6%,#fdc627 88.9%,#fbd724 93.1%,#f6e826 97.4%,#f1f426 100.0%)"></i>
<i style="left:292px;background:linear-gradient(#2a0593 0.0%,#38049a 3.5%,#4903a0 7.8%,#5901a5 12.1%,#6a00a8 16.3%,#7a02a8 20.6%,#8808a6 24.9%,#9613a1 29.1%,#a51f99 33.4%,#b12a90 37.7%,#bc3587 41.9%,#c6417d 46.2%,#d04d73 50.5%,#d9586a 54.7%,#e16462 59.0%,#e87059 63.3%,#ef7e50 67.5%,#f58b47 71.8%,#f9983e 76.1%,#fca636 80.4%,#feb72d 84.6%,#fdc627 88.9%,#fbd724 93.2%,#f6e826 97.4%,#f2f227 100.0%)"></i>
<i style="left:294px;background:linear-gradient(#2c0594 0.0%,#38049a 3.1%,#4903a0 7.4%,#5901a5 11.7%,#6a00a8 16.0%,#7a02a8 20.2%,#8808a6 24.5%,#9613a1 28.8%,#a51f99 33.1%,#b12a90 37.4%,#bc3587 41.7%,#c6417d 46.0%,#d04d73 50.3%,#d9586a 54.6%,#e16462 58.9%,#e87059 63.1%,#ef7e50 67.4%,#f58b47 71.7%,#f9983e 76.0%,#fca636 80.3%,#feb72d 84.6%,#fdc627 88.9%,#fbd724 93.2%,#f6e826 97.5%,#f2f227 100.0%)"></i>
<i style="left:296px;background:linear-gradient(#2e0595 0.0%,#38049a 2.6%,#4903a0 6.9%,#5901a5 11.2%,#6a00a8 15.6%,#7a02a8 19.9%,#8808a6 24.2%,#9613a1 28.5%,#a51f99 32.8%,#b12a90 37.1%,#bc3587 41.4%,#c6417d 45.7%,#d04d73 50.1%,#d9586a 54.4%,#e16462 58.7%,#e87059 63.0%,#ef7e50 67.3%,#f58b47 71.6%,#f9983e 75.9%,#fca636 80.3%,#feb72d 84.6%,#fdc627 88.9%,#fbd724 93.2%,#f6e826 97.5%,#f2f227 100.0%)"></i>
<i style="left:298px;background:linear-gradient(#2f0596 0.0%,#38049a 2.1%,#4903a0 6.4%,#5901a5 10.8%,#6a00a8 15.1%,#7a02a8 19.4%,#8808a6 23.8%,#9613a1 28.1%,#a51f99 32.5%,#b12a90 36.8%,#bc3587 41.1%,#c6417d 45.5%,#d04d73 49.8%,#d9586a 54.2%,#e16462 58.5%,#e87059 62.8%,#ef7e50 67.2%,#f58b47 71.5%,#f9983e 75.9%,#fca636 80.2%,#feb72d 84.5%,#fdc627 88.9%,#fbd724 93.2%,#f6e826 97.5%,#f2f227 100.0%)"></i>
<i style="left:300px;background:linear-gradient(#310597 0.0%,#38049a 1.5%,#4903a0 5.9%,#5901a5 10.3%,#6a00a8 14.6%,#7a02a8 19.0%,#8808a6 23.4%,#9613a1 27.7%,#a51f99 32.1%,#b12a90 36.5%,#bc3587 40.8%,#c6417d 45.2%,#d04d73 49.6%,#d9586a 53.9%,#e16462 58.3%,#e87059 62.7%,#ef7e50 67.0%,#f58b47 71.4%,#f9983e 75.8%,#fca636 80.1%,#feb72d 84.5%,#fdc627 88.8%,#fbd724 93.2%,#f6e826 97.6%,#f2f227 100.0%)"></i>
<i style="left:302px;background:linear-gradient(#350498 0.0%,#38049a 0.9%,#4903a0 5.3%,#5901a5 9.7%,#6a00a8 14.1%,#7a02a8 18.5%,#8808a6 22.9%,#9613a1 27.3%,#a51f99 31.7%,#b12a90 36.1%,#bc3587 40.5%,#c6417d 44.9%,#d04d73 49.3%,#d9586a 53.7%,#e16462 58.1%,#e87059 62.5%,#ef7e50 66.8%,#f58b47 71.2%,#f9983e 75.6%,#fca636 80.0%,#feb72d 84.4%,#fdc627 88.8%,#fbd724 93.2%,#f6e826 97.6%,#f2f227 100.0%)"></i>
<i style="left:304px;background:linear-gradient(#370499 0.0%,#38049a 0.3%,#4903a0 4.7%,#5901a5 9.1%,#6a00a8 13.6%,#7a02a8 18.0%,#8808a6 22.4%,#9613a1 26.8%,#a51f99 31.3%,#b12a90 35.7%,#bc3587 40.1%,#c6417d 44.5%,#d04d73 49.0%,#d9586a 53.4%,#e16462 57.8%,#e87059 62.2%,#ef7e50 66.7%,#f58b47 71.1%,#f9983e 75.5%,#fca636 79.9%,#feb72d 84.4%,#fdc627 88.8%,#fbd724 93.2%,#f6e826 97.6%,#f2f227 100.0%)"></i>
<i style="left:306px;background:linear-gradient(#3a049a 0.0%,#4903a0 4.0%,#5901a5 8.5%,#6a00a8 13.0%,#7a02a8 17.4%,#8808a6 21.9%,#9613a1 26.3%,#a51f99 30.8%,#b12a90 35.3%,#bc3587 39.7%,#c6417d 44.2%,#d04d73 48.6%,#d9586a 53.1%,#e16462 57.5%,#e87059 62.0%,#ef7e50 66.5%,#f58b47 70.9%,#f9983e 75.4%,#fca636 79.8%,#feb72d 84.3%,#fdc627 88.7%,#fbd724 93.2%,#f6e826 97.7%,#f2f227 100.0%)"></i>
<i style="left:308px;background:linear-gradient(#3e049c 0.0%,#4903a0 3.3%,#5901a5 7.8%,#6a00a8 12.3%,#7a02a8 16.8%,#8808a6 21.3%,#9613a1 25.8%,#a51f99 30.3%,#b12a90 34.8%,#bc3587 39.3%,#c6417d 43.8%,#d04d73 48.3%,#d9586a 52.8%,#e16462 57.3%,#e87059 61.7%,#ef7e50 66.2%,#f58b47 70.7%,#f9983e 75.2%,#fca636 79.7%,#feb72d 84.2%,#fdc627 88.7%,#fbd724 93.2%,#f6e826 97.7%,#f2f227 100.0%)"></i>
<i style="left:310px;background:linear-gradient(#3f049c 0.0%,#4903a0 2.6%,#5901a5 7.1%,#6a00a8 11.7%,#7a02a8 16.2%,#8808a6 20.7%,#9613a1 25.3%,#a51f99 29.8%,#b12a90 34.3%,#bc3587 38.8%,#c6417d 43.4%,#d04d73 47.9%,#d9586a 52.4%,#e16462 56.9%,#e87059 61.5%,#ef7e50 66.0%,#f58b47 70.5%,#f9983e 75.1%,#fca636 79.6%,#feb72d 84.1%,#fdc627 88.6%,#fbd724 93.2%,#f6e826 97.7%,#f3f027 100.0%)"></i>
<i style="left:312px;background:linear-gradient(#43039e 0.0%,#4903a0 1.8%,#5901a5 6.4%,#6a00a8 11.0%,#7a02a8 15.5%,#8808a6 20.1%,#9613a1 24.7%,#a51f99 29.2%,#b12a90 33.8%,#bc3587 38.4%,#c6417d 42.9%,#d04d73 47.5%,#d9586a 52.1%,#e16462 56.6%,#e87059 61.2%,#ef7e50 65.8%,#f58b47 70.3%,#f9983e 74.9%,#fca636 79.5%,#feb72d 84.0%,#fdc627 88.6%,#fbd724 93.2%,#f6e826 97.7%,#f3f027 100.0%)"></i>
<i style="left:314px;background:linear-gradient(#46039f 0.0%,#4903a0 1.0%,#5901a5 5.6%,#6a00a8 10.2%,#7a02a8 14.8%,#8808a6 19.4%,#9613a1 24.0%,#a51f99 28.6%,#b12a90 33.3%,#bc3587 37.9%,#c6417d 42.5%,#d04d73 47.1%,#d9586a 51.7%,#e16462 56.3%,#e87059 60.9%,#ef7e50 65.5%,#f58b47 70.1%,#f9983e 74.7%,#fca636 79.3%,#feb72d 83.9%,#fdc627 88.5%,#fbd724 93.1%,#f6e826 97.7%,#f3f027 100.0%)"></i>
<i style="left:316px;background:linear-gradient(#4903a0 0.0%,#4903a0 0.1%,#5901a5 4.8%,#6a00a8 9.4%,#7a02a8 14.1%,#8808a6 18.7%,#9613a1 23.4%,#a51f99 28.0%,#b12a90 32.7%,#bc3587 37.3%,#c6417d 42.0%,#d04d73 46.6%,#d9586a 51.3%,#e16462 55.9%,#e87059 60.6%,#ef7e50 65.2%,#f58b47 69.9%,#f9983e 74.5%,#fca636 79.2%,#feb72d 83.8%,#fdc627 88.4%,#fbd724 93.1%,#f6e826 97.7%,#f3f027 100.0%)"></i>
<i style="left:318px;background:linear-gradient(#4c02a1 0.0%,#5901a5 3.9%,#6a00a8 8.6%,#7a02a8 13.3%,#8808a6 18.0%,#9613a1 22.7%,#a51f99 27.4%,#b12a90 32.1%,#bc3587 36.8%,#c6417d 41.5%,#d04d73 46.2%,#d9586a 50.8%,#e16462 55.5%,#e87059 60.2%,#ef7e50 64.9%,#f58b47 69.6%,#f9983e 74.3%,#fca636 79.0%,#feb72d 83.7%,#fdc627 88.4%,#fbd724 93.1%,#f6e826 97.7%,#f3f027 100.0%)"></i>
<i style="left:320px;background:linear-gradient(#5002a2 0.0%,#5901a5 3.0%,#6a00a8 7.8%,#7a02a8 12.5%,#8808a6 17.2%,#9613a1 22.0%,#a51f99 26.7%,#b12a90 31.5%,#bc3587 36.2%,#c6417d 40.9%,#d04d73 45.7%,#d9586a 50.4%,#e16462 55.1%,#e87059 59.9%,#ef7e50 64.6%,#f58b47 69.3%,#f9983e 74.1%,#fca636 78.8%,#feb72d 83.5%,#fdc627 88.3%,#fbd724 93.0%,#f6e826 97.8%,#f3f027 100.0%)"></i>
<i style="left:322px;background:linear-gradient(#5302a3 0.0%,#5901a5 2.1%,#6a00a8 6.9%,#7a02a8 11.7%,#8808a6 16.4%,#9613a1 21.2%,#a51f99 26.0%,#b12a90 30.8%,#bc3587 35.6%,#c6417d 40.4%,#d04d73 45.1%,#d9586a 49.9%,#e16462 54.7%,#e87059 59.5%,#ef7e50 64.3%,#f58b47 69.1%,#f9983e 73.8%,#fca636 78.6%,#feb72d 83.4%,#fdc627 88.2%,#fbd724 93.0%,#f6e826 97.8%,#f3f027 100.0%)"></i>
<i style="left:324px;background:linear-gradient(#5601a4 0.0%,#5901a5 1.1%,#6a00a8 5.9%,#7a02a8 10.8%,#8808a6 15.6%,#9613a1 20.4%,#a51f99 25.3%,#b12a90 30.1%,#bc3587 34.9%,#c6417d 39.8%,#d04d73 44.6%,#d9586a 49.4%,#e16462 54.3%,#e87059 59.1%,#ef7e50 63.9%,#f58b47 68.8%,#f9983e 73.6%,#fca636 78.4%,#feb72d 83.3%,#fdc627 88.1%,#fbd724 92.9%,#f6e826 97.8%,#f3f027 100.0%)"></i>
<i style="left:326px;background:linear-gradient(#5901a5 0.0%,#5901a5 0.1%,#6a00a8 5.0%,#7a02a8 9.9%,#8808a6 14.7%,#9613a1 19.6%,#a51f99 24.5%,#b12a90 29.4%,#bc3587 34.3%,#c6417d 39.2%,#d04d73 44.0%,#d9586a 48.9%,#e16462 53.8%,#e87059 58.7%,#ef7e50 63.6%,#f58b47 68.5%,#f9983e 73.3%,#fca636 78.2%,#feb72d 83.1%,#fdc627 88.0%,#fbd724 92.9%,#f6e826 97.8%,#f3f027 100.0%)"></i>
<i style="left:328px;background:linear-gradient(#5c01a6 0.0%,#6a00a8 4.0%,#7a02a8 8.9%,#8808a6 13.8%,#9613a1 18.8%,#a51f99 23.7%,#b12a90 28.6%,#bc3587 33.6%,#c6417d 38.5%,#d04d73 43.5%,#d9586a 48.4%,#e16462 53.3%,#e87059 58.3%,#ef7e50 63.2%,#f58b47 68.1%,#f9983e 73.1%,#fca636 78.0%,#feb72d 82.9%,#fdc627 87.9%,#fbd724 92.8%,#f6e826 97.8%,#f3f027 100.0%)"></i>
<i style="left:330px;background:linear-gradient(#6100a7 0.0%,#6a00a8 2.9%,#7a02a8 7.9%,#8808a6 12.9%,#9613a1 17.9%,#a51f99 22.9%,#b12a90 27.9%,#bc3587 32.9%,#c6417d 37.8%,#d04d73 42.8%,#d9586a 47.8%,#e16462 52.8%,#e87059 57.8%,#ef7e50 62.8%,#f58b47 67.8%,#f9983e 72.8%,#fca636 77.8%,#feb72d 82.8%,#fdc627 87.8%,#fbd724 92.8%,#f6e826 97.7%,#f3f027 100.0%)"></i>
<i style="left:332px;background:linear-gradient(#6400a7 0.0%,#6a00a8 1.8%,#7a02a8 6.9%,#8808a6 11.9%,#9613a1 17.0%,#a51f99 22.0%,#b12a90 27.1%,#bc3587 32.1%,#c6417d 37.2%,#d04d73 42.2%,#d9586a 47.3%,#e16462 52.3%,#e87059 57.3%,#ef7e50 62.4%,#f58b47 67.4%,#f9983e 72.5%,#fca636 77.5%,#feb72d 82.6%,#fdc627 87.6%,#fbd724 92.7%,#f6e826 97.7%,#f3f027 100.0%)"></i>
<i style="left:334px;background:linear-gradient(#6700a8 0.0%,#6a00a8 0.7%,#7a02a8 5.8%,#8808a6 10.9%,#9613a1 16.0%,#a51f99 21.1%,#b12a90 26.2%,#bc3587 31.3%,#c6417d 36.4%,#d04d73 41.5%,#d9586a 46.7%,#e16462 51.8%,#e87059 56.9%,#ef7e50 62.0%,#f58b47 67.1%,#f9983e 72.2%,#fca636 77.3%,#feb72d 82.4%,#fdc627 87.5%,#fbd724 92.6%,#f6e826 97.7%,#f3f027 100.0%)"></i>
<i style="left:336px;background:linear-gradient(#6c00a8 0.0%,#7a02a8 4.7%,#8808a6 9.9%,#9613a1 15.0%,#a51f99 20.2%,#b12a90 25.4%,#bc3587 30.5%,#c6417d 35.7%,#d04d73 40.9%,#d9586a 46.0%,#e16462 51.2%,#e87059 56.4%,#ef7e50 61.5%,#f58b47 66.7%,#f9983e 71.9%,#fca636 77.0%,#feb72d 82.2%,#fdc627 87.4%,#fbd724 92.5%,#f6e826 97.7%,#f3f027 100.0%)"></i>
<i style="left:338px;background:linear-gradient(#6f00a8 0.0%,#7a02a8 3.5%,#8808a6 8.8%,#9613a1 14.0%,#a51f99 19.2%,#b12a90 24.5%,#bc3587 29.7%,#c6417d 34.9%,#d04d73 40.2%,#d9586a 45.4%,#e16462 50.6%,#e87059 55.8%,#ef7e50 61.1%,#f58b47 66.3%,#f9983e 71.5%,#fca636 76.8%,#feb72d 82.0%,#fdc627 87.2%,#fbd724 92.5%,#f6e826 97.7%,#f3f027 100.0%)"></i>
<i style="left:340px;background:linear-gradient(#7201a8 0.0%,#7a02a8 2.4%,#8808a6 7.6%,#9613a1 12.9%,#a51f99 18.2%,#b12a90 23.5%,#bc3587 28.8%,#c6417d 34.1%,#d04d73 39.4%,#d9586a 44.7%,#e16462 50.0%,#e87059 55.3%,#ef7e50 60.6%,#f58b47 65.9%,#f9983e 71.2%,#fca636 76.5%,#feb72d 81.8%,#fdc627 87.1%,#fbd724 92.4%,#f6e826 97.7%,#f3f027 100.0%)"></i>
<i style="left:342px;background:linear-gradient(#7701a8 0.0%,#7a02a8 1.1%,#8808a6 6.5%,#9613a1 11.9%,#a51f99 17.2%,#b12a90 22.6%,#bc3587 27.9%,#c6417d 33.3%,#d04d73 38.7%,#d9586a 44.0%,#e16462 49.4%,#e87059 54.8%,#ef7e50 60.1%,#f58b47 65.5%,#f9983e 70.8%,#fca636 76.2%,#feb72d 81.6%,#fdc627 86.9%,#fbd724 92.3%,#f6e826 97.7%,#f3f027 100.0%)"></i>
<i style="left:344px;background:linear-gradient(#7a02a8 0.0%,#8808a6 5.3%,#9613a1 10.7%,#a51f99 16.2%,#b12a90 21.6%,#bc3587 27.0%,#c6417d 32.5%,#d04d73 37.9%,#d9586a 43.3%,#e16462 48.8%,#e87059 54.2%,#ef7e50 59.6%,#f58b47 65.0%,#f9983e 70.5%,#fca636 75.9%,#feb72d 81.3%,#fdc627 86.8%,#fbd724 92.2%,#f6e826 97.6%,#f3f027 100.0%)"></i>
<i style="left:346px;background:linear-gradient(#7e03a8 0.0%,#8808a6 4.1%,#9613a1 9.6%,#a51f99 15.1%,#b12a90 20.6%,#bc3587 26.1%,#c6417d 31.6%,#d04d73 37.1%,#d9586a 42.6%,#e16462 48.1%,#e87059 53.6%,#ef7e50 59.1%,#f58b47 64.6%,#f9983e 70.1%,#fca636 75.6%,#feb72d 81.1%,#fdc627 86.6%,#fbd724 92.1%,#f6e826 97.6%,#f3f027 100.0%)"></i>
<i style="left:348px;background:linear-gradient(#8104a7 0.0%,#8808a6 2.8%,#9613a1 8.4%,#a51f99 14.0%,#b12a90 19.5%,#bc3587 25.1%,#c6417d 30.7%,#d04d73 36.3%,#d9586a 41.8%,#e16462 47.4%,#e87059 53.0%,#ef7e50 58.6%,#f58b47 64.1%,#f9983e 69.7%,#fca636 75.3%,#feb72d 80.9%,#fdc627 86.4%,#fbd724 92.0%,#f6e826 97.6%,#f3f027 100.0%)"></i>
<i style="left:350px;background:linear-gradient(#8405a7 0.0%,#8808a6 1.5%,#9613a1 7.2%,#a51f99 12.8%,#b12a90 18.5%,#bc3587 24.1%,#c6417d 29.8%,#d04d73 35.4%,#d9586a 41.1%,#e16462 46.7%,#e87059 52.4%,#ef7e50 58.0%,#f58b47 63.7%,#f9983e 69.3%,#fca636 75.0%,#feb72d 80.6%,#fdc627 86.3%,#fbd724 91.9%,#f6e826 97.6%,#f3f027 100.0%)"></i>
<i style="left:352px;background:linear-gradient(#8808a6 0.0%,#8808a6 0.2%,#9613a1 5.9%,#a51f99 11.6%,#b12a90 17.3%,#bc3587 23.1%,#c6417d 28.8%,#d04d73 34.5%,#d9586a 40.3%,#e16462 46.0%,#e87059 51.7%,#ef7e50 57.4%,#f58b47 63.2%,#f9983e 68.9%,#fca636 74.6%,#feb72d 80.3%,#fdc627 86.1%,#fbd724 91.8%,#f6e826 97.5%,#f3f027 100.0%)"></i>
<i style="left:354px;background:linear-gradient(#8b0aa5 0.0%,#9613a1 4.6%,#a51f99 10.4%,#b12a90 16.2%,#bc3587 22.0%,#c6417d 27.8%,#d04d73 33.6%,#d9586a 39.4%,#e16462 45.2%,#e87059 51.0%,#ef7e50 56.9%,#f58b47 62.7%,#f9983e 68.5%,#fca636 74.3%,#feb72d 80.1%,#fdc627 85.9%,#fbd724 91.7%,#f6e826 97.5%,#f3f027 100.0%)"></i>
<i style="left:356px;background:linear-gradient(#8f0da4 0.0%,#9613a1 3.3%,#a51f99 9.2%,#b12a90 15.0%,#bc3587 20.9%,#c6417d 26.8%,#d04d73 32.7%,#d9586a 38.6%,#e16462 44.5%,#e87059 50.4%,#ef7e50 56.3%,#f58b47 62.1%,#f9983e 68.0%,#fca636 73.9%,#feb72d 79.8%,#fdc627 85.7%,#fbd724 91.6%,#f6e826 97.5%,#f3f027 100.0%)"></i>
<i style="left:358px;background:linear-gradient(#920fa3 0.0%,#9613a1 1.9%,#a51f99 7.9%,#b12a90 13.8%,#bc3587 19.8%,#c6417d 25.8%,#d04d73 31.8%,#d9586a 37.7%,#e16462 43.7%,#e87059 49.7%,#ef7e50 55.6%,#f58b47 61.6%,#f9983e 67.6%,#fca636 73.5%,#feb72d 79.5%,#fdc627 85.5%,#fbd724 91.5%,#f6e826 97.4%,#f3f027 100.0%)"></i>
<i style="left:360px;background:linear-gradient(#9613a1 0.0%,#9613a1 0.5%,#a51f99 6.6%,#b12a90 12.6%,#bc3587 18.7%,#c6417d 24.7%,#d04d73 30.8%,#d9586a 36.8%,#e16462 42.9%,#e87059 48.9%,#ef7e50 55.0%,#f58b47 61.1%,#f9983e 67.1%,#fca636 73.2%,#feb72d 79.2%,#fdc627 85.3%,#fbd724 91.3%,#f6e826 97.4%,#f3f027 100.0%)"></i>
<i style="left:362px;background:linear-gradient(#99159f 0.0%,#a51f99 5.2%,#b12a90 11.3%,#bc3587 17.5%,#c6417d 23.6%,#d04d73 29.8%,#d9586a 35.9%,#e16462 42.1%,#e87059 48.2%,#ef7e50 54.3%,#f58b47 60.5%,#f9983e 66.6%,#fca636 72.8%,#feb72d 78.9%,#fdc627 85.1%,#fbd724 91.2%,#f6e826 97.3%,#f3f027 100.0%)"></i>
<i style="left:364px;background:linear-gradient(#9c179e 0.0%,#a51f99 3.8%,#b12a90 10.0%,#bc3587 16.3%,#c6417d 22.5%,#d04d73 28.7%,#d9586a 35.0%,#e16462 41.2%,#e87059 47.4%,#ef7e50 53.7%,#f58b47 59.9%,#f9983e 66.1%,#fca636 72.4%,#feb72d 78.6%,#fdc627 84.8%,#fbd724 91.1%,#f6e826 97.3%,#f3f027 100.0%)"></i>
<i style="left:366px;background:linear-gradient(#a01a9c 0.0%,#a51f99 2.4%,#b12a90 8.7%,#bc3587 15.0%,#c6417d 21.3%,#d04d73 27.7%,#d9586a 34.0%,#e16462 40.3%,#e87059 46.7%,#ef7e50 53.0%,#f58b47 59.3%,#f9983e 65.6%,#fca636 72.0%,#feb72d 78.3%,#fdc627 84.6%,#fbd724 90.9%,#f6e826 97.3%,#f3f027 100.0%)"></i>
<i style="left:368px;background:linear-gradient(#a21d9a 0.0%,#a51f99 0.9%,#b12a90 7.3%,#bc3587 13.7%,#c6417d 20.2%,#d04d73 26.6%,#d9586a 33.0%,#e16462 39.4%,#e87059 45.8%,#ef7e50 52.3%,#f58b47 58.7%,#f9983e 65.1%,#fca636 71.5%,#feb72d 77.9%,#fdc627 84.4%,#fbd724 90.8%,#f6e826 97.2%,#f3f027 100.0%)"></i>
<i style="left:370px;background:linear-gradient(#a62098 0.0%,#b12a90 5.9%,#bc3587 12.4%,#c6417d 18.9%,#d04d73 25.4%,#d9586a 32.0%,#e16462 38.5%,#e87059 45.0%,#ef7e50 51.5%,#f58b47 58.0%,#f9983e 64.6%,#fca636 71.1%,#feb72d 77.6%,#fdc627 84.1%,#fbd724 90.6%,#f6e826 97.2%,#f3f027 100.0%)"></i>
<i style="left:372px;background:linear-gradient(#a82296 0.0%,#b12a90 4.4%,#bc3587 11.0%,#c6417d 17.7%,#d04d73 24.3%,#d9586a 30.9%,#e16462 37.5%,#e87059 44.1%,#ef7e50 50.8%,#f58b47 57.4%,#f9983e 64.0%,#fca636 70.6%,#feb72d 77.2%,#fdc627 83.9%,#fbd724 90.5%,#f6e826 97.1%,#f3f027 100.0%)"></i>
<i style="left:374px;background:linear-gradient(#ab2494 0.0%,#b12a90 2.9%,#bc3587 9.6%,#c6417d 16.4%,#d04d73 23.1%,#d9586a 29.8%,#e16462 36.5%,#e87059 43.3%,#ef7e50 50.0%,#f58b47 56.7%,#f9983e 63.4%,#fca636 70.2%,#feb72d 76.9%,#fdc627 83.6%,#fbd724 90.3%,#f6e826 97.0%,#f3f027 100.0%)"></i>
<i style="left:376px;background:linear-gradient(#ae2892 0.0%,#b12a90 1.4%,#bc3587 8.2%,#c6417d 15.0%,#d04d73 21.9%,#d9586a 28.7%,#e16462 35.5%,#e87059 42.3%,#ef7e50 49.2%,#f58b47 56.0%,#f9983e 62.8%,#fca636 69.7%,#feb72d 76.5%,#fdc627 83.3%,#fbd724 90.1%,#f6e826 97.0%,#f3f027 100.0%)"></i>
<i style="left:378px;background:linear-gradient(#b12a90 0.0%,#bc3587 6.7%,#c6417d 13.6%,#d04d73 20.6%,#d9586a 27.5%,#e16462 34.5%,#e87059 41.4%,#ef7e50 48.3%,#f58b47 55.3%,#f9983e 62.2%,#fca636 69.2%,#feb72d 76.1%,#fdc627 83.0%,#fbd724 90.0%,#f6e826 96.9%,#f3f027 100.0%)"></i>
<i style="left:380px;background:linear-gradient(#b42e8d 0.0%,#bc3587 5.2%,#c6417d 12.2%,#d04d73 19.3%,#d9586a 26.3%,#e16462 33.4%,#e87059 40.4%,#ef7e50 47.5%,#f58b47 54.5%,#f9983e 61.6%,#fca636 68.6%,#feb72d 75.7%,#fdc627 82.7%,#fbd724 89.8%,#f6e826 96.8%,#f3f027 100.0%)"></i>
<i style="left:382px;background:linear-gradient(#b6308b 0.0%,#bc3587 3.6%,#c6417d 10.7%,#d04d73 17.9%,#d9586a 25.1%,#e16462 32.3%,#e87059 39.4%,#ef7e50 46.6%,#f58b47 53.8%,#f9983e 60.9%,#fca636 68.1%,#feb72d 75.3%,#fdc627 82.4%,#fbd724 89.6%,#f6e826 96.8%,#f3f027 100.0%)"></i>
<i style="left:384px;background:linear-gradient(#b83289 0.0%,#bc3587 1.9%,#c6417d 9.2%,#d04d73 16.5%,#d9586a 23.8%,#e16462 31.1%,#e87059 38.4%,#ef7e50 45.7%,#f58b47 53.0%,#f9983e 60.2%,#fca636 67.5%,#feb72d 74.8%,#fdc627 82.1%,#fbd724 89.4%,#f6e826 96.7%,#f3f027 100.0%)"></i>
<i style="left:386px;background:linear-gradient(#bc3587 0.0%,#bc3587 0.2%,#c6417d 7.7%,#d04d73 15.1%,#d9586a 22.5%,#e16462 29.9%,#e87059 37.3%,#ef7e50 44.7%,#f58b47 52.1%,#f9983e 59.5%,#fca636 67.0%,#feb72d 74.4%,#fdc627 81.8%,#fbd724 89.2%,#f6e826 96.6%,#f3f027 100.0%)"></i>
<i style="left:388px;background:linear-gradient(#be3885 0.0%,#c6417d 6.0%,#d04d73 13.6%,#d9586a 21.1%,#e16462 28.7%,#e87059 36.2%,#ef7e50 43.7%,#f58b47 51.3%,#f9983e 58.8%,#fca636 66.4%,#feb72d 73.9%,#fdc627 81.4%,#fbd724 89.0%,#f6e826 96.5%,#f3f027 100.0%)"></i>
<i style="left:390px;background:linear-gradient(#c13b82 0.0%,#c6417d 4.4%,#d04d73 12.0%,#d9586a 19.7%,#e16462 27.4%,#e87059 35.0%,#ef7e50 42.7%,#f58b47 50.4%,#f9983e 58.1%,#fca636 65.7%,#feb72d 73.4%,#fdc627 81.1%,#fbd724 88.7%,#f6e826 96.4%,#f3f027 100.0%)"></i>
<i style="left:392px;background:linear-gradient(#c33d80 0.0%,#c6417d 2.6%,#d04d73 10.4%,#d9586a 18.2%,#e16462 26.1%,#e87059 33.9%,#ef7e50 41.7%,#f58b47 49.5%,#f9983e 57.3%,#fca636 65.1%,#feb72d 72.9%,#fdc627 80.7%,#fbd724 88.5%,#f6e826 96.3%,#f3f027 100.0%)"></i>
<i style="left:394px;background:linear-gradient(#c5407e 0.0%,#c6417d 0.8%,#d04d73 8.8%,#d9586a 16.7%,#e16462 24.7%,#e87059 32.6%,#ef7e50 40.6%,#f58b47 48.5%,#f9983e 56.5%,#fca636 64.4%,#feb72d 72.4%,#fdc627 80.3%,#fbd724 88.3%,#f6e826 96.2%,#f3f027 100.0%)"></i>
<i style="left:396px;background:linear-gradient(#c8437b 0.0%,#d04d73 7.1%,#d9586a 15.2%,#e16462 23.3%,#e87059 31.4%,#ef7e50 39.4%,#f58b47 47.5%,#f9983e 55.6%,#fca636 63.7%,#feb72d 71.8%,#fdc627 79.9%,#fbd724 88.0%,#f6e826 96.1%,#f3f027 100.0%)"></i>
<i style="left:398px;background:linear-gradient(#ca457a 0.0%,#d04d73 5.3%,#d9586a 13.6%,#e16462 21.8%,#e87059 30.0%,#ef7e50 38.3%,#f58b47 46.5%,#f9983e 54.8%,#fca636 63.0%,#feb72d 71.2%,#fdc627 79.5%,#fbd724 87.7%,#f6e826 96.0%,#f3f027 100.0%)"></i>
<i style="left:400px;background:linear-gradient(#cc4778 0.0%,#d04d73 3.5%,#d9586a 11.9%,#e16462 20.3%,#e87059 28.7%,#ef7e50 37.1%,#f58b47 45.5%,#f9983e 53.9%,#fca636 62.3%,#feb72d 70.6%,#fdc627 79.0%,#fbd724 87.4%,#f6e826 95.8%,#f3f027 100.0%)"></i>
<i style="left:402px;background:linear-gradient(#ce4b75 0.0%,#d04d73 1.6%,#d9586a 10.1%,#e16462 18.7%,#e87059 27.3%,#ef7e50 35.8%,#f58b47 44.4%,#f9983e 52.9%,#fca636 61.5%,#feb72d 70.0%,#fdc627 78.6%,#fbd724 87.1%,#f6e826 95.7%,#f3f027 100.0%)"></i>
<i style="left:404px;background:linear-gradient(#d04d73 0.0%,#d9586a 8.3%,#e16462 17.1%,#e87059 25.8%,#ef7e50 34.5%,#f58b47 43.2%,#f9983e 51.9%,#fca636 60.7%,#feb72d 69.4%,#fdc627 78.1%,#fbd724 86.8%,#f6e826 95.6%,#f3f027 100.0%)"></i>
<i style="left:406px;background:linear-gradient(#d24f71 0.0%,#d9586a 6.5%,#e16462 15.4%,#e87059 24.3%,#ef7e50 33.1%,#f58b47 42.0%,#f9983e 50.9%,#fca636 59.8%,#feb72d 68.7%,#fdc627 77.6%,#fbd724 86.5%,#f6e826 95.4%,#f2f227 100.0%)"></i>
<i style="left:408px;background:linear-gradient(#d5536f 0.0%,#d9586a 4.5%,#e16462 13.6%,#e87059 22.7%,#ef7e50 31.7%,#f58b47 40.8%,#f9983e 49.9%,#fca636 58.9%,#feb72d 68.0%,#fdc627 77.1%,#fbd724 86.2%,#f6e826 95.2%,#f2f227 100.0%)"></i>
</div>
<div id="cb"></div>
<svg width="648" height="493" viewBox="0 0 648 493">
<g stroke="#141414" stroke-width="1.7" fill="none">
<line x1="108.8" x2="517.5" y1="123.6" y2="123.6"/>
<line x1="108.8" x2="517.5" y1="384.0" y2="384.0"/>
<line x1="108.8" x2="517.5" y1="393.2" y2="393.2"/>
<line x1="108.8" x2="517.5" y1="399.4" y2="399.4"/>
<line x1="108.8" x2="517.5" y1="429.9" y2="429.9"/>
</g>
<line x1="108.8" x2="517.5" y1="251.3" y2="251.3" stroke="#1f8a16" stroke-width="2" stroke-dasharray="5.9,1.75" stroke-dashoffset="1.81"/>
<g stroke="#000" stroke-width="1.4">
<line x1="202.5" y1="393.2" x2="225.0" y2="363.4"/><polygon stroke="#000" stroke-width="0.9" stroke-linejoin="miter" fill="#000" points="229.9,356.8 226.4,366.9 221.1,363.0"/>
<line x1="213.4" y1="399.4" x2="225.0" y2="383.9"/><polygon stroke="#000" stroke-width="0.9" stroke-linejoin="miter" fill="#000" points="229.9,377.3 226.4,387.4 221.2,383.5"/>
</g>
<g fill="none" stroke="#d8d8d8" stroke-width="1.5" stroke-linejoin="round" stroke-linecap="butt">
<polyline points="108.8,427.2 110.2,426.6 112.2,425.9 113.6,425.5 115.6,425.0 117.0,424.6 119.0,424.2 121.1,423.9 122.4,423.7 124.5,423.5 126.5,423.4 128.6,423.3 130.6,423.2 132.7,423.2 134.7,423.2 136.8,423.3 138.8,423.3 140.9,423.4 142.9,423.5 145.0,423.7 147.0,423.8 148.6,423.9 150.4,424.0 152.5,424.2 154.5,424.3 156.6,424.4 158.6,424.5 160.7,424.6 162.7,424.7 164.7,424.8 166.8,424.8 168.8,424.8 170.9,424.8 172.9,424.8 175.0,424.7 177.0,424.7 179.1,424.6 181.1,424.5 183.2,424.4 185.2,424.3 187.3,424.2 189.3,424.0 191.4,423.9 192.7,423.8 194.8,423.7 196.8,423.6 198.9,423.5 200.9,423.3 203.0,423.2 205.0,423.1 207.1,423.0 208.4,423.0 210.5,422.9 212.5,422.8 214.6,422.7 216.6,422.7 218.7,422.6 220.7,422.6 222.7,422.6 224.8,422.6 226.8,422.6 228.9,422.6 230.9,422.6 233.0,422.7 235.0,422.8 237.1,422.8 239.1,422.9 240.5,423.0 242.5,423.1 244.6,423.2 246.6,423.3 248.7,423.4 250.7,423.6 252.8,423.7 254.8,423.8 256.2,423.9 258.2,424.1 260.3,424.2 262.3,424.4 264.4,424.5 266.4,424.7 268.2,424.8 269.8,425.0 271.9,425.1 273.9,425.3 276.0,425.5 278.0,425.6 280.1,425.8 281.4,425.9 283.5,426.0 285.5,426.2 287.6,426.3 289.6,426.5 291.7,426.6 293.0,426.7 295.1,426.9 297.1,427.0 299.2,427.2 301.2,427.3 303.3,427.5 305.3,427.6 306.7,427.7 308.7,427.9 310.8,428.1 312.8,428.2 314.9,428.4 316.9,428.6 318.3,428.7 320.3,428.9 322.4,429.0 324.4,429.2 326.5,429.4 327.8,429.6 329.9,429.8 331.9,430.0 334.0,430.2 336.0,430.5 337.4,430.6 339.4,430.9 341.5,431.1 343.5,431.4 344.9,431.6 346.9,431.9 349.0,432.2 350.4,432.4 352.4,432.7 354.4,433.0 356.5,433.3 356.5,433.3"/>
<polyline points="108.8,229.5 110.2,231.0 111.3,232.3 112.2,233.2 113.6,234.6 114.9,236.0 115.9,237.0 117.0,238.0 118.4,239.4 119.7,240.7 120.8,241.7 121.8,242.6 123.1,243.8 124.5,245.1 125.9,246.3 127.0,247.3 128.0,248.2 129.3,249.3 130.6,250.5 132.0,251.7 133.4,252.8 134.6,253.9 135.7,254.8 136.9,255.7 138.1,256.8 139.5,257.9 140.9,259.0 142.2,260.1 143.6,261.2 145.0,262.3 146.2,263.3 147.3,264.2 148.5,265.1 149.7,266.1 151.1,267.1 152.5,268.2 153.8,269.2 155.2,270.3 156.6,271.3 157.9,272.4 159.3,273.4 160.7,274.4 162.0,275.4 163.4,276.4 164.7,277.4 165.9,278.3 167.2,279.2 168.6,280.2 169.9,281.1 171.2,282.1 172.5,283.0 173.9,283.9 175.3,284.9 176.6,285.8 178.0,286.8 179.4,287.7 180.9,288.6 182.3,289.6 183.8,290.5 185.2,291.4 186.6,292.3 187.9,293.1 189.3,294.0 190.7,294.8 192.0,295.6 193.4,296.4 194.8,297.2 196.2,298.0 197.8,299.0 199.5,299.9 200.9,300.7 202.3,301.4 203.6,302.1 205.0,302.9 206.5,303.7 208.4,304.6 209.8,305.3 211.1,306.0 212.5,306.6 214.1,307.4 215.9,308.3 217.3,308.9 218.7,309.5 220.2,310.2 222.1,311.1 223.4,311.7 224.8,312.3 226.6,313.1 228.2,313.7 229.6,314.3 231.1,314.9 233.0,315.7 234.3,316.2 235.8,316.8 237.8,317.6 239.1,318.1 240.7,318.7 242.5,319.4 243.9,319.9 245.8,320.6 247.3,321.1 248.7,321.6 250.7,322.3 252.1,322.7 254.0,323.4 255.5,323.9 256.9,324.3 258.9,325.0 260.3,325.4 262.3,326.1 263.7,326.5 265.7,327.1 267.1,327.5 269.1,328.1 270.5,328.5 272.5,329.0 273.9,329.4 275.9,330.0 277.3,330.3 279.4,330.9 280.7,331.2 282.8,331.7 284.2,332.0 286.2,332.5 287.6,332.9 289.6,333.3 291.4,333.7 293.0,334.1 295.1,334.5 296.4,334.8 298.5,335.2 300.3,335.6 301.9,335.9 303.9,336.3 305.3,336.6 307.4,337.0 309.4,337.4 310.8,337.7 312.8,338.0 314.8,338.4 316.2,338.7 318.3,339.1 319.9,339.4 321.7,339.7 323.7,340.1 325.1,340.3 327.1,340.7 329.2,341.1 330.5,341.3 332.6,341.7 334.6,342.1 336.0,342.3 338.1,342.7 340.1,343.1 341.5,343.4 343.5,343.8 344.9,344.1 346.9,344.4 349.0,344.9 350.3,345.1 352.4,345.5 354.4,345.9 355.8,346.2 357.8,346.6 359.4,346.9 361.3,347.2 363.3,347.6 364.7,347.8 366.7,348.2 368.8,348.5 370.4,348.8 372.2,349.0 374.2,349.3 376.3,349.6 377.6,349.7 379.7,350.0 381.7,350.2 383.8,350.3 385.8,350.5 387.9,350.6 389.2,350.7 391.3,350.7 393.3,350.7 395.4,350.7 397.4,350.7 398.8,350.6 400.8,350.5 402.9,350.3 404.9,350.1 407.0,349.9 408.3,349.7 410.4,349.3 412.4,349.0 413.8,348.7 415.8,348.2 417.5,347.8 419.2,347.4 421.0,346.9 422.7,346.4 424.1,345.9 426.1,345.3 427.4,344.8 429.5,344.1 430.8,343.5 432.2,343.0 434.1,342.2 435.6,341.5 437.0,340.9 438.4,340.3 440.2,339.4 441.8,338.6 443.1,337.9 444.5,337.2 445.9,336.4 447.3,335.6 448.9,334.7 450.5,333.7 452.0,332.8 453.4,332.0 454.7,331.1 456.1,330.2 457.5,329.3 458.8,328.3 460.2,327.4 461.6,326.4 462.9,325.4 464.3,324.4 465.6,323.4 466.9,322.4 468.1,321.5 469.2,320.6 470.4,319.6 471.8,318.5 473.2,317.3 474.5,316.1 475.9,314.9 476.9,314.0 477.9,313.1 479.3,311.8 480.7,310.5 481.9,309.3 482.8,308.4 484.1,307.1 485.4,305.7 486.5,304.6 487.5,303.5 488.8,302.1 489.9,300.8 490.9,299.8 492.3,298.2 493.2,297.1 494.3,295.8 495.5,294.3 496.3,293.2 497.7,291.5 498.5,290.5 499.8,288.8 500.6,287.7 501.8,286.0 502.6,284.9 503.9,283.1 504.6,282.1 505.9,280.2 506.6,279.1 507.7,277.4 508.6,275.9 509.5,274.5 510.7,272.7 511.4,271.5 512.4,269.8 513.4,268.1 514.1,266.9 515.1,265.1 516.1,263.3 516.8,262.0 517.5,260.7"/>
<polyline points="108.8,31.9 109.5,33.6 110.2,35.4 110.8,37.1 111.5,38.8 112.3,40.6 113.1,42.5 113.9,44.4 114.7,46.3 115.5,48.1 116.3,49.9 117.0,51.4 117.7,52.9 118.5,54.7 119.4,56.6 120.3,58.5 121.1,60.0 121.8,61.4 122.7,63.2 123.7,65.0 124.5,66.7 125.2,67.9 126.1,69.7 127.2,71.6 127.9,73.0 128.7,74.4 129.8,76.3 130.6,77.8 131.4,79.1 132.5,81.0 133.4,82.5 134.2,83.8 135.3,85.7 136.1,87.0 137.0,88.5 138.1,90.3 138.8,91.4 140.0,93.2 140.9,94.6 141.8,96.0 142.9,97.8 143.6,98.9 144.8,100.7 145.6,102.0 146.7,103.6 147.7,105.1 148.5,106.4 149.7,108.2 150.4,109.2 151.7,111.1 152.5,112.2 153.6,113.9 154.5,115.2 155.5,116.7 156.6,118.2 157.5,119.5 158.6,121.2 159.4,122.4 160.7,124.2 161.4,125.2 162.7,127.0 163.4,128.1 164.6,129.9 165.4,131.0 166.6,132.7 167.5,134.0 168.5,135.5 169.5,136.9 170.5,138.3 171.6,139.8 172.5,141.1 173.6,142.7 174.5,144.0 175.7,145.6 176.5,146.8 177.7,148.4 178.5,149.6 179.8,151.3 180.6,152.4 181.8,154.0 182.7,155.2 183.9,156.8 184.8,158.0 185.9,159.5 187.0,160.9 187.9,162.2 189.1,163.7 190.0,164.8 191.4,166.5 192.1,167.4 193.4,169.1 194.4,170.3 195.5,171.6 196.7,173.1 197.5,174.0 198.9,175.6 199.9,176.8 200.9,178.0 202.3,179.5 203.2,180.6 204.3,181.8 205.7,183.3 206.6,184.4 207.7,185.5 209.1,187.0 210.2,188.1 211.1,189.1 212.5,190.5 213.9,191.9 214.8,192.8 215.9,193.9 217.3,195.2 218.7,196.5 219.8,197.5 220.8,198.4 222.1,199.6 223.4,200.8 224.8,202.0 226.1,203.1 227.3,204.1 228.4,205.0 229.6,206.0 230.9,207.1 232.3,208.2 233.7,209.2 235.0,210.2 236.4,211.3 237.8,212.3 239.1,213.3 240.5,214.2 241.8,215.2 243.2,216.1 244.6,217.0 245.9,218.0 247.3,218.8 248.7,219.7 250.0,220.6 251.4,221.4 252.8,222.3 254.1,223.1 255.5,223.9 257.0,224.7 258.6,225.7 260.3,226.6 261.6,227.4 263.0,228.1 264.4,228.8 265.7,229.5 267.4,230.4 269.1,231.2 270.5,231.9 271.9,232.6 273.2,233.2 275.2,234.1 276.6,234.8 278.0,235.4 279.4,236.0 281.4,236.9 282.8,237.4 284.2,238.0 286.2,238.8 287.6,239.4 288.9,239.9 291.0,240.7 292.3,241.2 293.7,241.7 295.8,242.4 297.1,242.9 299.1,243.5 300.5,244.0 301.9,244.5 303.9,245.1 305.3,245.6 307.4,246.2 308.7,246.6 310.8,247.3 312.1,247.7 314.1,248.2 315.5,248.7 317.3,249.2 318.9,249.6 320.7,250.1 322.4,250.6 324.1,251.1 325.8,251.5 327.6,252.0 329.2,252.4 331.1,252.9 332.6,253.3 334.6,253.9 336.0,254.2 338.1,254.7 339.4,255.1 341.5,255.6 342.8,256.0 344.9,256.5 346.2,256.9 348.3,257.4 349.7,257.7 351.7,258.2 353.1,258.6 355.1,259.0 357.2,259.5 358.5,259.8 360.6,260.2 361.9,260.5 364.0,260.9 366.0,261.3 367.4,261.5 369.4,261.8 371.5,262.1 373.3,262.3 374.9,262.5 376.9,262.7 379.0,262.8 381.0,262.9 383.1,262.9 385.1,262.9 387.2,262.8 389.2,262.7 391.3,262.5 392.9,262.3 394.7,262.1 396.7,261.7 398.1,261.4 400.1,260.9 401.7,260.4 403.6,259.9 404.9,259.4 407.0,258.6 408.3,258.0 409.7,257.4 411.2,256.7 413.0,255.7 414.5,255.0 415.8,254.2 417.2,253.4 418.6,252.5 419.9,251.6 421.3,250.7 422.7,249.7 424.0,248.7 425.4,247.7 426.8,246.6 428.1,245.5 429.3,244.5 430.4,243.5 431.5,242.5 432.9,241.3 434.3,240.0 435.4,238.8 436.4,237.9 437.7,236.6 439.0,235.1 440.0,234.1 441.1,232.9 442.4,231.4 443.3,230.4 444.5,229.0 445.7,227.6 446.5,226.6 447.9,224.9 448.7,223.8 450.0,222.3 450.9,221.0 452.0,219.6 453.0,218.2 454.0,216.8 455.1,215.4 456.1,213.9 457.1,212.5 458.1,211.0 459.0,209.7 460.2,207.9 460.9,206.9 462.1,205.0 462.9,203.7 463.9,202.2 465.0,200.5 465.6,199.4 466.8,197.5 467.7,196.0 468.5,194.7 469.6,192.8 470.4,191.3 471.2,190.0 472.2,188.1 473.2,186.5 473.8,185.2 474.8,183.4 475.8,181.5 476.6,180.1 477.3,178.7 478.3,176.8 479.2,175.0 480.0,173.5 480.7,172.1 481.6,170.3 482.5,168.4 483.4,166.5 484.1,165.0 484.7,163.6 485.6,161.8 486.4,159.9 487.3,158.0 488.1,156.2 488.8,154.5 489.5,152.9 490.2,151.3 490.9,149.6 491.7,147.7 492.5,145.8 493.3,144.0 494.0,142.1 494.8,140.2 495.5,138.3 496.2,136.4 497.0,134.6 497.7,132.7 498.4,130.8 499.1,128.9 499.8,127.1 500.4,125.2 501.1,123.3 501.8,121.4 502.5,119.5 503.1,117.7 503.7,115.8 504.4,113.9 505.0,112.0 505.6,110.1 506.2,108.3 506.9,106.4 507.5,104.5 508.1,102.6 508.6,100.7 509.3,98.6 510.0,96.4 510.7,94.2 511.2,92.3 511.8,90.4 512.3,88.5 512.9,86.7 513.4,84.8 514.1,82.4 514.8,80.1 515.3,78.2 515.8,76.3 516.3,74.4 516.8,72.5 517.5,70.0 517.5,70.0"/>
<polyline points="178.3,11.5 179.1,13.2 179.8,14.6 180.5,16.2 181.4,18.1 182.4,20.0 183.2,21.6 183.9,23.0 184.7,24.7 185.6,26.5 186.5,28.4 187.3,29.8 188.0,31.2 188.9,33.1 189.9,35.0 190.7,36.5 191.4,37.8 192.3,39.7 193.3,41.6 194.1,43.0 194.8,44.4 195.9,46.3 196.8,48.0 197.5,49.2 198.4,51.0 199.5,52.8 200.2,54.1 201.1,55.7 202.2,57.5 203.0,58.9 203.8,60.3 204.9,62.2 205.7,63.5 206.6,65.0 207.7,66.8 208.4,67.9 209.6,69.7 210.5,71.2 211.3,72.6 212.5,74.4 213.2,75.4 214.4,77.3 215.2,78.5 216.3,80.1 217.3,81.4 218.3,82.9 219.3,84.3 220.3,85.7 221.4,87.2 222.4,88.5 223.4,89.9 224.5,91.4 225.5,92.6 226.7,94.2 227.5,95.2 228.9,96.8 229.8,97.9 230.9,99.3 232.2,100.7 233.0,101.7 234.3,103.2 235.5,104.5 236.4,105.5 237.8,107.0 239.0,108.3 239.9,109.2 241.2,110.6 242.5,111.9 243.5,113.0 244.6,114.0 245.9,115.3 247.3,116.6 248.4,117.7 249.5,118.6 250.7,119.7 252.1,120.9 253.4,122.1 254.8,123.3 255.9,124.2 257.0,125.2 258.2,126.1 259.6,127.2 261.0,128.3 262.3,129.4 263.7,130.4 265.0,131.5 266.4,132.5 267.8,133.4 269.1,134.4 270.5,135.4 271.9,136.3 273.2,137.2 274.6,138.1 276.0,139.0 277.3,139.9 278.7,140.7 280.1,141.5 281.4,142.4 282.8,143.2 284.2,144.0 285.8,144.9 287.5,145.8 288.9,146.6 290.3,147.3 291.7,148.1 293.0,148.8 294.7,149.6 296.4,150.5 297.8,151.1 299.2,151.8 300.6,152.4 302.6,153.3 303.9,153.9 305.3,154.5 306.9,155.2 308.7,156.0 310.1,156.6 311.4,157.1 313.5,158.0 314.9,158.5 316.2,159.0 318.3,159.8 319.6,160.3 321.1,160.9 323.0,161.6 324.4,162.1 326.2,162.7 327.8,163.3 329.2,163.8 331.2,164.5 332.6,164.9 334.4,165.6 336.0,166.1 337.4,166.5 339.4,167.2 340.8,167.7 342.8,168.3 344.2,168.8 346.0,169.3 347.6,169.8 349.0,170.3 351.0,170.9 352.4,171.3 354.4,171.8 355.8,172.2 357.8,172.7 359.3,173.1 361.3,173.5 363.3,174.0 364.7,174.3 366.7,174.6 368.8,174.9 370.1,175.1 372.2,175.4 374.2,175.5 376.3,175.7 378.3,175.7 380.4,175.7 382.4,175.6 384.5,175.5 386.5,175.2 388.2,175.0 389.9,174.6 392.0,174.2 393.3,173.8 395.4,173.1 396.7,172.6 398.1,172.1 400.1,171.2 401.5,170.5 402.9,169.8 404.2,169.0 405.6,168.2 407.0,167.3 408.3,166.4 409.7,165.4 411.1,164.3 412.4,163.2 413.8,162.0 415.1,160.9 416.1,159.9 417.2,158.9 418.6,157.5 419.8,156.2 420.7,155.2 422.0,153.8 423.2,152.4 424.0,151.5 425.4,149.8 426.4,148.7 427.4,147.3 428.5,145.8 429.5,144.6 430.6,143.0 431.5,141.8 432.6,140.2 433.6,138.8 434.5,137.4 435.6,135.7 436.4,134.6 437.6,132.7 438.4,131.4 439.3,129.9 440.4,128.0 441.1,126.9 442.1,125.2 443.1,123.3 443.8,122.1 444.7,120.5 445.7,118.6 446.5,117.1 447.2,115.8 448.2,113.9 449.2,112.0 450.0,110.5 450.6,109.1 451.5,107.3 452.4,105.4 453.3,103.6 454.0,102.1 454.7,100.6 455.5,98.9 456.4,97.0 457.2,95.1 458.1,93.2 458.8,91.6 459.5,90.0 460.2,88.4 461.0,86.7 461.8,84.8 462.5,82.9 463.3,81.0 464.1,79.1 464.9,77.3 465.6,75.4 466.3,73.6 467.0,71.9 467.7,70.2 468.4,68.4 469.1,66.6 469.7,64.8 470.4,63.0 471.1,61.2 471.8,59.4 472.5,57.5 473.2,55.6 473.8,53.7 474.5,51.8 475.2,49.9 475.9,48.0 476.6,46.0 477.2,44.0 477.9,42.0 478.6,40.0 479.3,37.9 479.9,35.9 480.6,34.0 481.2,32.2 481.8,30.3 482.4,28.4 483.0,26.5 483.5,24.7 484.1,22.8 484.7,20.7 485.4,18.5 486.1,16.2 486.7,14.3 487.2,12.4 487.5,11.5"/>
<polyline points="245.0,11.5 245.9,12.6 247.3,14.3 248.1,15.3 249.4,16.8 250.4,18.1 251.4,19.3 252.8,20.8 253.7,21.8 254.8,23.1 256.2,24.6 257.1,25.6 258.2,26.8 259.6,28.3 260.6,29.3 261.6,30.4 263.0,31.7 264.4,33.1 265.4,34.0 266.4,35.0 267.8,36.3 269.1,37.6 270.4,38.7 271.5,39.7 272.6,40.6 273.9,41.8 275.3,42.9 276.6,44.1 278.0,45.2 279.4,46.3 280.6,47.2 281.8,48.1 283.0,49.1 284.3,50.0 285.6,51.0 286.9,51.9 288.2,52.9 289.6,53.8 291.0,54.7 292.4,55.7 293.8,56.6 295.3,57.5 296.8,58.5 298.3,59.4 299.8,60.3 301.2,61.2 302.6,62.0 303.9,62.7 305.3,63.5 306.7,64.3 308.1,65.0 309.9,66.0 311.4,66.8 312.8,67.5 314.2,68.2 315.5,68.9 317.3,69.7 318.9,70.5 320.3,71.2 321.7,71.8 323.3,72.6 325.1,73.3 326.5,74.0 327.8,74.5 329.8,75.4 331.2,76.0 332.6,76.6 334.3,77.3 336.0,78.0 337.4,78.5 338.9,79.1 340.8,79.9 342.1,80.4 343.8,81.0 345.6,81.7 346.9,82.2 348.9,82.9 350.3,83.4 351.7,83.9 353.7,84.6 355.1,85.0 357.2,85.6 358.5,86.0 360.6,86.5 361.9,86.9 364.0,87.3 365.3,87.6 367.4,88.0 369.4,88.3 371.5,88.5 372.9,88.6 374.9,88.7 376.9,88.7 379.0,88.6 380.6,88.5 382.4,88.3 384.5,88.0 386.4,87.6 387.9,87.2 389.8,86.7 391.3,86.1 392.6,85.6 394.5,84.8 396.0,84.0 397.4,83.2 398.8,82.4 400.1,81.5 401.5,80.6 402.9,79.6 404.2,78.4 405.6,77.3 406.6,76.3 407.6,75.4 409.0,74.0 410.4,72.6 411.3,71.6 412.4,70.3 413.7,68.8 414.5,67.9 415.8,66.1 416.7,65.0 417.9,63.4 418.7,62.2 419.9,60.5 420.7,59.4 421.9,57.5 422.7,56.4 423.7,54.7 424.7,53.1 425.5,51.9 426.6,50.0 427.4,48.5 428.2,47.2 429.2,45.3 430.2,43.6 430.8,42.3 431.7,40.6 432.7,38.7 433.6,37.0 434.3,35.6 435.0,34.0 435.9,32.2 436.8,30.3 437.7,28.5 438.4,27.0 439.0,25.5 439.8,23.7 440.7,21.8 441.5,20.0 442.3,18.1 443.1,16.2 443.8,14.4 444.5,12.7 445.0,11.5"/>
</g>
<rect x="108.8" y="11.5" width="408.7" height="421.8" fill="none" stroke="#1a1a1a" stroke-width="1.05"/>
<rect x="539.7" y="11.5" width="27.3" height="421.8" fill="none" stroke="#333" stroke-width="0.9"/>
<g stroke="#000" stroke-width="1.1">
<line x1="105.3" x2="108.8" y1="433.30" y2="433.30"/>
<line x1="105.3" x2="108.8" y1="377.06" y2="377.06"/>
<line x1="105.3" x2="108.8" y1="320.82" y2="320.82"/>
<line x1="105.3" x2="108.8" y1="264.58" y2="264.58"/>
<line x1="105.3" x2="108.8" y1="208.34" y2="208.34"/>
<line x1="105.3" x2="108.8" y1="152.10" y2="152.10"/>
<line x1="105.3" x2="108.8" y1="95.86" y2="95.86"/>
<line x1="105.3" x2="108.8" y1="39.62" y2="39.62"/>
<line x1="150.72" x2="150.72" y1="433.3" y2="436.8"/>
<line x1="255.51" x2="255.51" y1="433.3" y2="436.8"/>
<line x1="360.31" x2="360.31" y1="433.3" y2="436.8"/>
<line x1="465.10" x2="465.10" y1="433.3" y2="436.8"/>
<line x1="567" x2="570.5" y1="433.30" y2="433.30"/>
<line x1="567" x2="570.5" y1="348.94" y2="348.94"/>
<line x1="567" x2="570.5" y1="264.58" y2="264.58"/>
<line x1="567" x2="570.5" y1="180.22" y2="180.22"/>
<line x1="567" x2="570.5" y1="95.86" y2="95.86"/>
<line x1="567" x2="570.5" y1="11.50" y2="11.50"/>
</g>
<g font-size="23.4px">
<text x="102.6" y="441.6" text-anchor="end">0</text>
<text x="102.6" y="385.4" text-anchor="end">20</text>
<text x="102.6" y="329.1" text-anchor="end">40</text>
<text x="102.6" y="272.9" text-anchor="end">60</text>
<text x="102.6" y="216.6" text-anchor="end">80</text>
<text x="102.6" y="160.4" text-anchor="end">100</text>
<text x="102.6" y="104.2" text-anchor="end">120</text>
<text x="102.6" y="47.9" text-anchor="end">140</text>
<text x="150.7" y="456.6" text-anchor="middle">250</text>
<text x="255.5" y="456.6" text-anchor="middle">300</text>
<text x="360.3" y="456.6" text-anchor="middle">350</text>
<text x="465.1" y="456.6" text-anchor="middle">400</text>
<text x="574.2" y="441.6">0</text>
<text x="574.2" y="357.2">20</text>
<text x="574.2" y="272.9">40</text>
<text x="574.2" y="188.5">60</text>
<text x="574.2" y="104.2">80</text>
<text x="574.2" y="19.8">100</text>
</g>
<g font-size="22.6px">
<text x="116.5" y="113.4" letter-spacing="0.7px">MoVTeNbO<tspan font-style="italic" font-size="13.5px" dy="8.2" letter-spacing="0">x</tspan></text>
<text x="116.2" y="240.8" style="fill:#1a8a14" letter-spacing="0.7px">VPP<tspan font-size="13px" dy="8.5" letter-spacing="0.2px">modified</tspan></text>
<text x="116.5" y="372.8" letter-spacing="0.4px">MoVO<tspan font-style="italic" font-size="13.5px" dy="8.2" letter-spacing="0">x</tspan></text>
<text x="232.6" y="360" letter-spacing="0.8px">VPP</text>
<text x="238" y="378.3" letter-spacing="0.3px">a-VPP</text>
<text x="117" y="417.9">V<tspan font-size="14.5px" dy="8.5">2</tspan><tspan dy="-8.5">O</tspan><tspan font-size="14.5px" dy="8.5">5</tspan></text>
</g>
<text x="318.5" y="486.5" text-anchor="middle" font-size="25.8px" letter-spacing="0.15px">Temperature (°C)</text>
<g transform="translate(43.4,302) rotate(-90)" font-size="25.3px">
<text x="-0.5" y="0" font-style="italic">d</text>
<text x="13.5" y="-11.7" font-style="italic" font-size="16.5px">s</text>
<text x="14" y="5.5" font-size="16px">1</text>
<text x="26.3" y="2.2" font-size="29px">(</text>
<text x="38.5" y="-13.7">g</text>
<text x="51" y="-22.8" font-size="13.5px">2</text>
<text x="63" y="-14.7" letter-spacing="0.9px">eVmol</text>
<line x1="38.1" x2="141.7" y1="-6.1" y2="-6.1" stroke="#000" stroke-width="1.3"/>
<text x="49.4" y="17">cm</text>
<text x="80" y="7.5" font-size="13px">6</text>
<text x="93" y="17">kJ</text>
<text x="142.5" y="2.2" font-size="29px">)</text>
</g>
<g transform="translate(616,124) rotate(90)" font-size="25.5px">
<text x="0" y="0" font-style="italic">S</text>
<text x="12.5" y="-17.9" font-size="14.5px" textLength="53.5" lengthAdjust="spacingAndGlyphs">(SISSO)</text>
<text x="11.5" y="1" font-size="15.8px" textLength="84.5" lengthAdjust="spacingAndGlyphs">acrylic acid</text>
<text x="102" y="0">(<tspan font-style="italic">T</tspan>)</text>
<text x="139" y="0">(%)</text>
</g>

</svg>
</body></html>
